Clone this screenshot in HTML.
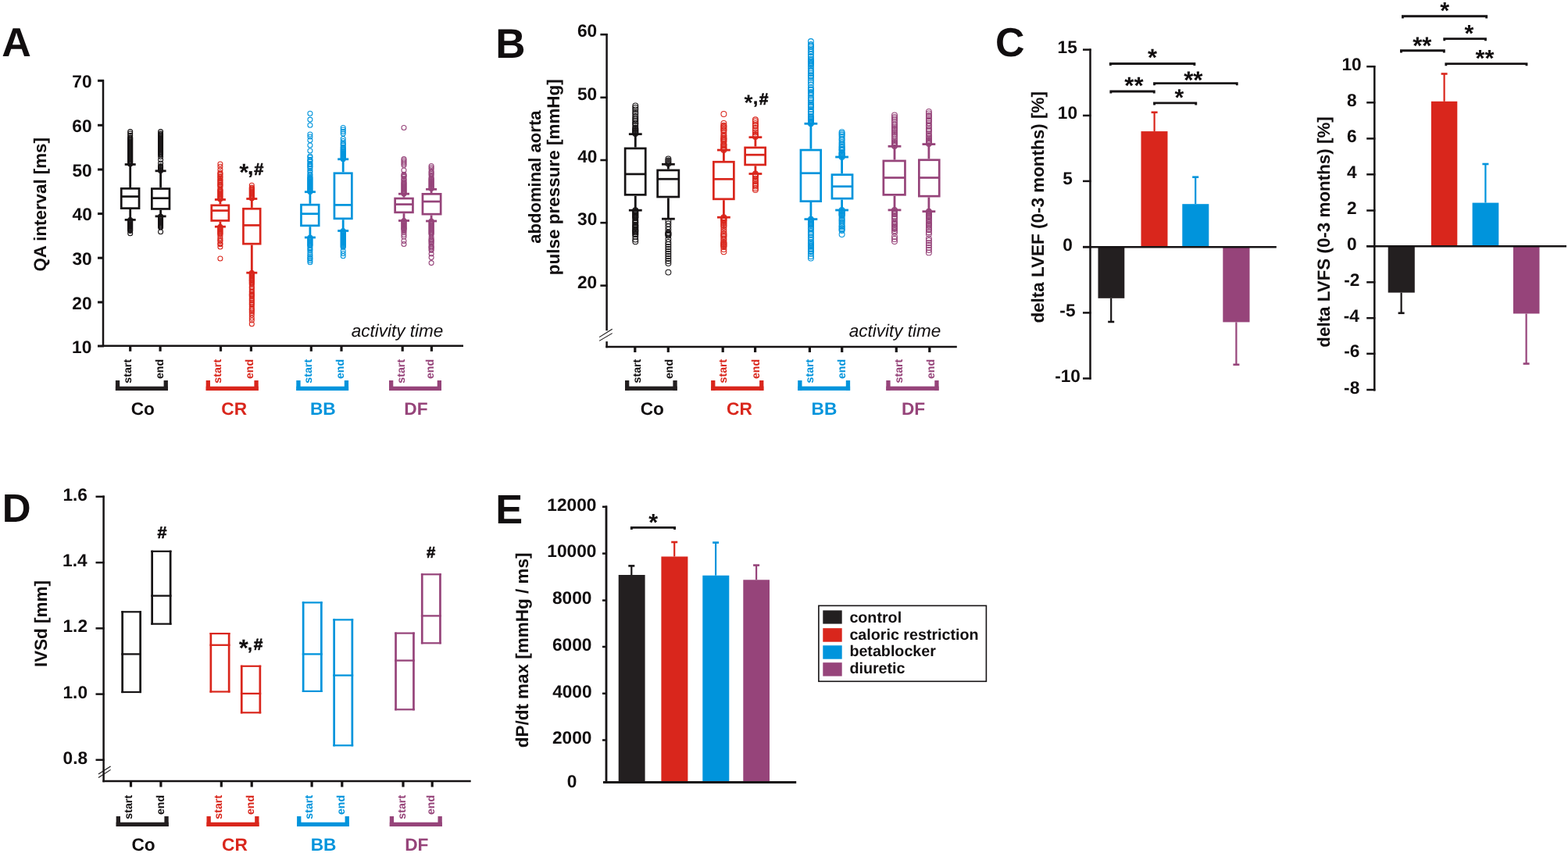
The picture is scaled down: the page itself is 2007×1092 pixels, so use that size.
<!DOCTYPE html>
<html><head><meta charset="utf-8"><style>
html,body{margin:0;padding:0;background:#fff;}
svg{display:block;}
text{font-family:"Liberation Sans", Arial, Helvetica, sans-serif;font-weight:bold;text-rendering:geometricPrecision;}
</style></head><body>
<svg width="2007" height="1092" viewBox="0 0 2007 1092">
<rect width="2007" height="1092" fill="#fff"/>
<text x="2.27" y="71.9" font-size="52.03" fill="#110e0f">A</text>
<line x1="132" y1="102.3" x2="132" y2="444" stroke="#161314" stroke-width="2.5" stroke-linecap="butt"/>
<line x1="125" y1="103.3" x2="133" y2="103.3" stroke="#161314" stroke-width="3" stroke-linecap="butt"/>
<text x="92.3" y="112.13" font-size="22.7" fill="#110e0f">70</text>
<line x1="125" y1="160.3" x2="133" y2="160.3" stroke="#161314" stroke-width="3" stroke-linecap="butt"/>
<text x="92.36" y="169.13" font-size="22.7" fill="#110e0f">60</text>
<line x1="125" y1="217" x2="133" y2="217" stroke="#161314" stroke-width="3" stroke-linecap="butt"/>
<text x="92.42" y="225.83" font-size="22.7" fill="#110e0f">50</text>
<line x1="125" y1="273.6" x2="133" y2="273.6" stroke="#161314" stroke-width="3" stroke-linecap="butt"/>
<text x="92.59" y="282.43" font-size="22.7" fill="#110e0f">40</text>
<line x1="125" y1="330.2" x2="133" y2="330.2" stroke="#161314" stroke-width="3" stroke-linecap="butt"/>
<text x="92.47" y="339.03" font-size="22.7" fill="#110e0f">30</text>
<line x1="125" y1="386.9" x2="133" y2="386.9" stroke="#161314" stroke-width="3" stroke-linecap="butt"/>
<text x="92.36" y="395.73" font-size="22.7" fill="#110e0f">20</text>
<line x1="125" y1="443" x2="133" y2="443" stroke="#161314" stroke-width="3" stroke-linecap="butt"/>
<text x="92.07" y="451.83" font-size="22.7" fill="#110e0f">10</text>
<line x1="131" y1="442.8" x2="593" y2="442.8" stroke="#161314" stroke-width="2.6" stroke-linecap="butt"/>
<line x1="166.7" y1="443" x2="166.7" y2="449.8" stroke="#161314" stroke-width="3.2" stroke-linecap="butt"/>
<line x1="205.1" y1="443" x2="205.1" y2="449.8" stroke="#161314" stroke-width="3.2" stroke-linecap="butt"/>
<line x1="282.5" y1="443" x2="282.5" y2="449.8" stroke="#161314" stroke-width="3.2" stroke-linecap="butt"/>
<line x1="321.4" y1="443" x2="321.4" y2="449.8" stroke="#161314" stroke-width="3.2" stroke-linecap="butt"/>
<line x1="398.3" y1="443" x2="398.3" y2="449.8" stroke="#161314" stroke-width="3.2" stroke-linecap="butt"/>
<line x1="437" y1="443" x2="437" y2="449.8" stroke="#161314" stroke-width="3.2" stroke-linecap="butt"/>
<line x1="515.2" y1="443" x2="515.2" y2="449.8" stroke="#161314" stroke-width="3.2" stroke-linecap="butt"/>
<line x1="552.4" y1="443" x2="552.4" y2="449.8" stroke="#161314" stroke-width="3.2" stroke-linecap="butt"/>
<text transform="translate(58.95,347.59) rotate(-90)" font-size="22.32" fill="#110e0f">QA interval [ms]</text>
<text x="449.65" y="431.15" font-size="22.54" fill="#110e0f" style="font-style:italic;font-weight:normal">activity time</text>
<line x1="166.7" y1="210.5" x2="166.7" y2="240" stroke="#161314" stroke-width="2.8" stroke-linecap="butt"/>
<line x1="166.7" y1="268" x2="166.7" y2="281.4" stroke="#161314" stroke-width="2.8" stroke-linecap="butt"/>
<line x1="159.7" y1="210.5" x2="173.7" y2="210.5" stroke="#161314" stroke-width="2.8" stroke-linecap="butt"/>
<line x1="159.7" y1="281.4" x2="173.7" y2="281.4" stroke="#161314" stroke-width="2.8" stroke-linecap="butt"/>
<rect x="155.25" y="241.35" width="22.8" height="25.3" fill="none" stroke="#161314" stroke-width="2.7"/>
<line x1="155.25" y1="251.6" x2="178.05" y2="251.6" stroke="#161314" stroke-width="2.7" stroke-linecap="butt"/>
<circle cx="166.7" cy="168.6" r="3" fill="none" stroke="#161314" stroke-width="1.05"/>
<circle cx="166.7" cy="171" r="3" fill="none" stroke="#161314" stroke-width="1.05"/>
<circle cx="166.7" cy="173.5" r="3" fill="none" stroke="#161314" stroke-width="1.05"/>
<circle cx="166.7" cy="176" r="3" fill="none" stroke="#161314" stroke-width="1.05"/>
<circle cx="166.7" cy="177" r="3" fill="none" stroke="#161314" stroke-width="1.05"/>
<circle cx="166.7" cy="178" r="3" fill="none" stroke="#161314" stroke-width="1.05"/>
<circle cx="166.7" cy="179" r="3" fill="none" stroke="#161314" stroke-width="1.05"/>
<circle cx="166.7" cy="180" r="3" fill="none" stroke="#161314" stroke-width="1.05"/>
<circle cx="166.7" cy="181" r="3" fill="none" stroke="#161314" stroke-width="1.05"/>
<circle cx="166.7" cy="182" r="3" fill="none" stroke="#161314" stroke-width="1.05"/>
<circle cx="166.7" cy="183" r="3" fill="none" stroke="#161314" stroke-width="1.05"/>
<circle cx="166.7" cy="184" r="3" fill="none" stroke="#161314" stroke-width="1.05"/>
<circle cx="166.7" cy="185" r="3" fill="none" stroke="#161314" stroke-width="1.05"/>
<circle cx="166.7" cy="186" r="3" fill="none" stroke="#161314" stroke-width="1.05"/>
<circle cx="166.7" cy="187" r="3" fill="none" stroke="#161314" stroke-width="1.05"/>
<circle cx="166.7" cy="188" r="3" fill="none" stroke="#161314" stroke-width="1.05"/>
<circle cx="166.7" cy="189" r="3" fill="none" stroke="#161314" stroke-width="1.05"/>
<circle cx="166.7" cy="190" r="3" fill="none" stroke="#161314" stroke-width="1.05"/>
<circle cx="166.7" cy="191" r="3" fill="none" stroke="#161314" stroke-width="1.05"/>
<circle cx="166.7" cy="192" r="3" fill="none" stroke="#161314" stroke-width="1.05"/>
<circle cx="166.7" cy="193" r="3" fill="none" stroke="#161314" stroke-width="1.05"/>
<circle cx="166.7" cy="194" r="3" fill="none" stroke="#161314" stroke-width="1.05"/>
<circle cx="166.7" cy="195" r="3" fill="none" stroke="#161314" stroke-width="1.05"/>
<circle cx="166.7" cy="196" r="3" fill="none" stroke="#161314" stroke-width="1.05"/>
<circle cx="166.7" cy="197" r="3" fill="none" stroke="#161314" stroke-width="1.05"/>
<circle cx="166.7" cy="198" r="3" fill="none" stroke="#161314" stroke-width="1.05"/>
<circle cx="166.7" cy="199" r="3" fill="none" stroke="#161314" stroke-width="1.05"/>
<circle cx="166.7" cy="200" r="3" fill="none" stroke="#161314" stroke-width="1.05"/>
<circle cx="166.7" cy="201" r="3" fill="none" stroke="#161314" stroke-width="1.05"/>
<circle cx="166.7" cy="202" r="3" fill="none" stroke="#161314" stroke-width="1.05"/>
<circle cx="166.7" cy="203" r="3" fill="none" stroke="#161314" stroke-width="1.05"/>
<circle cx="166.7" cy="204" r="3" fill="none" stroke="#161314" stroke-width="1.05"/>
<circle cx="166.7" cy="205" r="3" fill="none" stroke="#161314" stroke-width="1.05"/>
<circle cx="166.7" cy="206" r="3" fill="none" stroke="#161314" stroke-width="1.05"/>
<circle cx="166.7" cy="207" r="3" fill="none" stroke="#161314" stroke-width="1.05"/>
<circle cx="166.7" cy="208" r="3" fill="none" stroke="#161314" stroke-width="1.05"/>
<circle cx="166.7" cy="209" r="3" fill="none" stroke="#161314" stroke-width="1.05"/>
<circle cx="166.7" cy="210" r="3" fill="none" stroke="#161314" stroke-width="1.05"/>
<circle cx="166.7" cy="281.4" r="3" fill="none" stroke="#161314" stroke-width="1.05"/>
<circle cx="166.7" cy="282.4" r="3" fill="none" stroke="#161314" stroke-width="1.05"/>
<circle cx="166.7" cy="283.4" r="3" fill="none" stroke="#161314" stroke-width="1.05"/>
<circle cx="166.7" cy="284.4" r="3" fill="none" stroke="#161314" stroke-width="1.05"/>
<circle cx="166.7" cy="285.4" r="3" fill="none" stroke="#161314" stroke-width="1.05"/>
<circle cx="166.7" cy="286.4" r="3" fill="none" stroke="#161314" stroke-width="1.05"/>
<circle cx="166.7" cy="287.4" r="3" fill="none" stroke="#161314" stroke-width="1.05"/>
<circle cx="166.7" cy="288.4" r="3" fill="none" stroke="#161314" stroke-width="1.05"/>
<circle cx="166.7" cy="289.4" r="3" fill="none" stroke="#161314" stroke-width="1.05"/>
<circle cx="166.7" cy="290.4" r="3" fill="none" stroke="#161314" stroke-width="1.05"/>
<circle cx="166.7" cy="291.4" r="3" fill="none" stroke="#161314" stroke-width="1.05"/>
<circle cx="166.7" cy="292.4" r="3" fill="none" stroke="#161314" stroke-width="1.05"/>
<circle cx="166.7" cy="293.4" r="3" fill="none" stroke="#161314" stroke-width="1.05"/>
<circle cx="166.7" cy="294.4" r="3" fill="none" stroke="#161314" stroke-width="1.05"/>
<circle cx="166.7" cy="295.4" r="3" fill="none" stroke="#161314" stroke-width="1.05"/>
<circle cx="166.7" cy="298.8" r="3" fill="none" stroke="#161314" stroke-width="1.05"/>
<line x1="205.6" y1="218.8" x2="205.6" y2="240.2" stroke="#161314" stroke-width="2.8" stroke-linecap="butt"/>
<line x1="205.6" y1="268.8" x2="205.6" y2="276.9" stroke="#161314" stroke-width="2.8" stroke-linecap="butt"/>
<line x1="198.6" y1="218.8" x2="212.6" y2="218.8" stroke="#161314" stroke-width="2.8" stroke-linecap="butt"/>
<line x1="198.6" y1="276.9" x2="212.6" y2="276.9" stroke="#161314" stroke-width="2.8" stroke-linecap="butt"/>
<rect x="194.35" y="241.55" width="22.6" height="25.9" fill="none" stroke="#161314" stroke-width="2.7"/>
<line x1="194.35" y1="253.7" x2="216.95" y2="253.7" stroke="#161314" stroke-width="2.7" stroke-linecap="butt"/>
<circle cx="205.6" cy="168.6" r="3" fill="none" stroke="#161314" stroke-width="1.05"/>
<circle cx="205.6" cy="171" r="3" fill="none" stroke="#161314" stroke-width="1.05"/>
<circle cx="205.6" cy="172" r="3" fill="none" stroke="#161314" stroke-width="1.05"/>
<circle cx="205.6" cy="173" r="3" fill="none" stroke="#161314" stroke-width="1.05"/>
<circle cx="205.6" cy="174" r="3" fill="none" stroke="#161314" stroke-width="1.05"/>
<circle cx="205.6" cy="175" r="3" fill="none" stroke="#161314" stroke-width="1.05"/>
<circle cx="205.6" cy="176" r="3" fill="none" stroke="#161314" stroke-width="1.05"/>
<circle cx="205.6" cy="177" r="3" fill="none" stroke="#161314" stroke-width="1.05"/>
<circle cx="205.6" cy="178" r="3" fill="none" stroke="#161314" stroke-width="1.05"/>
<circle cx="205.6" cy="179" r="3" fill="none" stroke="#161314" stroke-width="1.05"/>
<circle cx="205.6" cy="180" r="3" fill="none" stroke="#161314" stroke-width="1.05"/>
<circle cx="205.6" cy="181" r="3" fill="none" stroke="#161314" stroke-width="1.05"/>
<circle cx="205.6" cy="182" r="3" fill="none" stroke="#161314" stroke-width="1.05"/>
<circle cx="205.6" cy="183" r="3" fill="none" stroke="#161314" stroke-width="1.05"/>
<circle cx="205.6" cy="184" r="3" fill="none" stroke="#161314" stroke-width="1.05"/>
<circle cx="205.6" cy="185" r="3" fill="none" stroke="#161314" stroke-width="1.05"/>
<circle cx="205.6" cy="186" r="3" fill="none" stroke="#161314" stroke-width="1.05"/>
<circle cx="205.6" cy="187" r="3" fill="none" stroke="#161314" stroke-width="1.05"/>
<circle cx="205.6" cy="188" r="3" fill="none" stroke="#161314" stroke-width="1.05"/>
<circle cx="205.6" cy="189" r="3" fill="none" stroke="#161314" stroke-width="1.05"/>
<circle cx="205.6" cy="190" r="3" fill="none" stroke="#161314" stroke-width="1.05"/>
<circle cx="205.6" cy="191" r="3" fill="none" stroke="#161314" stroke-width="1.05"/>
<circle cx="205.6" cy="192" r="3" fill="none" stroke="#161314" stroke-width="1.05"/>
<circle cx="205.6" cy="193" r="3" fill="none" stroke="#161314" stroke-width="1.05"/>
<circle cx="205.6" cy="194" r="3" fill="none" stroke="#161314" stroke-width="1.05"/>
<circle cx="205.6" cy="195" r="3" fill="none" stroke="#161314" stroke-width="1.05"/>
<circle cx="205.6" cy="196" r="3" fill="none" stroke="#161314" stroke-width="1.05"/>
<circle cx="205.6" cy="197" r="3" fill="none" stroke="#161314" stroke-width="1.05"/>
<circle cx="205.6" cy="198" r="3" fill="none" stroke="#161314" stroke-width="1.05"/>
<circle cx="205.6" cy="200.5" r="3" fill="none" stroke="#161314" stroke-width="1.05"/>
<circle cx="205.6" cy="204.5" r="3" fill="none" stroke="#161314" stroke-width="1.05"/>
<circle cx="205.6" cy="208.9" r="3" fill="none" stroke="#161314" stroke-width="1.05"/>
<circle cx="205.6" cy="212.5" r="3" fill="none" stroke="#161314" stroke-width="1.05"/>
<circle cx="205.6" cy="213.5" r="3" fill="none" stroke="#161314" stroke-width="1.05"/>
<circle cx="205.6" cy="214.5" r="3" fill="none" stroke="#161314" stroke-width="1.05"/>
<circle cx="205.6" cy="215.5" r="3" fill="none" stroke="#161314" stroke-width="1.05"/>
<circle cx="205.6" cy="216.5" r="3" fill="none" stroke="#161314" stroke-width="1.05"/>
<circle cx="205.6" cy="217.5" r="3" fill="none" stroke="#161314" stroke-width="1.05"/>
<circle cx="205.6" cy="218.5" r="3" fill="none" stroke="#161314" stroke-width="1.05"/>
<circle cx="205.6" cy="276.9" r="3" fill="none" stroke="#161314" stroke-width="1.05"/>
<circle cx="205.6" cy="277.9" r="3" fill="none" stroke="#161314" stroke-width="1.05"/>
<circle cx="205.6" cy="278.9" r="3" fill="none" stroke="#161314" stroke-width="1.05"/>
<circle cx="205.6" cy="279.9" r="3" fill="none" stroke="#161314" stroke-width="1.05"/>
<circle cx="205.6" cy="280.9" r="3" fill="none" stroke="#161314" stroke-width="1.05"/>
<circle cx="205.6" cy="281.9" r="3" fill="none" stroke="#161314" stroke-width="1.05"/>
<circle cx="205.6" cy="282.9" r="3" fill="none" stroke="#161314" stroke-width="1.05"/>
<circle cx="205.6" cy="283.9" r="3" fill="none" stroke="#161314" stroke-width="1.05"/>
<circle cx="205.6" cy="284.9" r="3" fill="none" stroke="#161314" stroke-width="1.05"/>
<circle cx="205.6" cy="285.9" r="3" fill="none" stroke="#161314" stroke-width="1.05"/>
<circle cx="205.6" cy="286.9" r="3" fill="none" stroke="#161314" stroke-width="1.05"/>
<circle cx="205.6" cy="287.9" r="3" fill="none" stroke="#161314" stroke-width="1.05"/>
<circle cx="205.6" cy="288.9" r="3" fill="none" stroke="#161314" stroke-width="1.05"/>
<circle cx="205.6" cy="289.9" r="3" fill="none" stroke="#161314" stroke-width="1.05"/>
<circle cx="205.6" cy="290.9" r="3" fill="none" stroke="#161314" stroke-width="1.05"/>
<circle cx="205.6" cy="296.8" r="3" fill="none" stroke="#161314" stroke-width="1.05"/>
<line x1="281.9" y1="255.5" x2="281.9" y2="261.5" stroke="#d9261c" stroke-width="2.8" stroke-linecap="butt"/>
<line x1="281.9" y1="283.8" x2="281.9" y2="290.2" stroke="#d9261c" stroke-width="2.8" stroke-linecap="butt"/>
<line x1="274.9" y1="255.5" x2="288.9" y2="255.5" stroke="#d9261c" stroke-width="2.8" stroke-linecap="butt"/>
<line x1="274.9" y1="290.2" x2="288.9" y2="290.2" stroke="#d9261c" stroke-width="2.8" stroke-linecap="butt"/>
<rect x="270.75" y="262.85" width="22.1" height="19.6" fill="none" stroke="#d9261c" stroke-width="2.7"/>
<line x1="270.75" y1="269.6" x2="292.85" y2="269.6" stroke="#d9261c" stroke-width="2.7" stroke-linecap="butt"/>
<circle cx="281.9" cy="210" r="3" fill="none" stroke="#d9261c" stroke-width="1.05"/>
<circle cx="281.9" cy="213.2" r="3" fill="none" stroke="#d9261c" stroke-width="1.05"/>
<circle cx="281.9" cy="217.3" r="3" fill="none" stroke="#d9261c" stroke-width="1.05"/>
<circle cx="281.9" cy="221" r="3" fill="none" stroke="#d9261c" stroke-width="1.05"/>
<circle cx="281.9" cy="222.51" r="3" fill="none" stroke="#d9261c" stroke-width="1.05"/>
<circle cx="281.9" cy="223.64" r="3" fill="none" stroke="#d9261c" stroke-width="1.05"/>
<circle cx="281.9" cy="225.88" r="3" fill="none" stroke="#d9261c" stroke-width="1.05"/>
<circle cx="281.9" cy="226.84" r="3" fill="none" stroke="#d9261c" stroke-width="1.05"/>
<circle cx="281.9" cy="228.81" r="3" fill="none" stroke="#d9261c" stroke-width="1.05"/>
<circle cx="281.9" cy="230.42" r="3" fill="none" stroke="#d9261c" stroke-width="1.05"/>
<circle cx="281.9" cy="231.35" r="3" fill="none" stroke="#d9261c" stroke-width="1.05"/>
<circle cx="281.9" cy="233.26" r="3" fill="none" stroke="#d9261c" stroke-width="1.05"/>
<circle cx="281.9" cy="234.15" r="3" fill="none" stroke="#d9261c" stroke-width="1.05"/>
<circle cx="281.9" cy="235.9" r="3" fill="none" stroke="#d9261c" stroke-width="1.05"/>
<circle cx="281.9" cy="236.85" r="3" fill="none" stroke="#d9261c" stroke-width="1.05"/>
<circle cx="281.9" cy="237.85" r="3" fill="none" stroke="#d9261c" stroke-width="1.05"/>
<circle cx="281.9" cy="239.59" r="3" fill="none" stroke="#d9261c" stroke-width="1.05"/>
<circle cx="281.9" cy="242.21" r="3" fill="none" stroke="#d9261c" stroke-width="1.05"/>
<circle cx="281.9" cy="243.28" r="3" fill="none" stroke="#d9261c" stroke-width="1.05"/>
<circle cx="281.9" cy="244" r="3" fill="none" stroke="#d9261c" stroke-width="1.05"/>
<circle cx="281.9" cy="245" r="3" fill="none" stroke="#d9261c" stroke-width="1.05"/>
<circle cx="281.9" cy="246" r="3" fill="none" stroke="#d9261c" stroke-width="1.05"/>
<circle cx="281.9" cy="247" r="3" fill="none" stroke="#d9261c" stroke-width="1.05"/>
<circle cx="281.9" cy="248" r="3" fill="none" stroke="#d9261c" stroke-width="1.05"/>
<circle cx="281.9" cy="249" r="3" fill="none" stroke="#d9261c" stroke-width="1.05"/>
<circle cx="281.9" cy="250" r="3" fill="none" stroke="#d9261c" stroke-width="1.05"/>
<circle cx="281.9" cy="251" r="3" fill="none" stroke="#d9261c" stroke-width="1.05"/>
<circle cx="281.9" cy="252" r="3" fill="none" stroke="#d9261c" stroke-width="1.05"/>
<circle cx="281.9" cy="253" r="3" fill="none" stroke="#d9261c" stroke-width="1.05"/>
<circle cx="281.9" cy="254" r="3" fill="none" stroke="#d9261c" stroke-width="1.05"/>
<circle cx="281.9" cy="255" r="3" fill="none" stroke="#d9261c" stroke-width="1.05"/>
<circle cx="281.9" cy="290.2" r="3" fill="none" stroke="#d9261c" stroke-width="1.05"/>
<circle cx="281.9" cy="291.2" r="3" fill="none" stroke="#d9261c" stroke-width="1.05"/>
<circle cx="281.9" cy="292.2" r="3" fill="none" stroke="#d9261c" stroke-width="1.05"/>
<circle cx="281.9" cy="293.2" r="3" fill="none" stroke="#d9261c" stroke-width="1.05"/>
<circle cx="281.9" cy="294.2" r="3" fill="none" stroke="#d9261c" stroke-width="1.05"/>
<circle cx="281.9" cy="295.2" r="3" fill="none" stroke="#d9261c" stroke-width="1.05"/>
<circle cx="281.9" cy="296.2" r="3" fill="none" stroke="#d9261c" stroke-width="1.05"/>
<circle cx="281.9" cy="297.2" r="3" fill="none" stroke="#d9261c" stroke-width="1.05"/>
<circle cx="281.9" cy="298.2" r="3" fill="none" stroke="#d9261c" stroke-width="1.05"/>
<circle cx="281.9" cy="299.2" r="3" fill="none" stroke="#d9261c" stroke-width="1.05"/>
<circle cx="281.9" cy="300" r="3" fill="none" stroke="#d9261c" stroke-width="1.05"/>
<circle cx="281.9" cy="302.18" r="3" fill="none" stroke="#d9261c" stroke-width="1.05"/>
<circle cx="281.9" cy="305.07" r="3" fill="none" stroke="#d9261c" stroke-width="1.05"/>
<circle cx="281.9" cy="307.13" r="3" fill="none" stroke="#d9261c" stroke-width="1.05"/>
<circle cx="281.9" cy="308.81" r="3" fill="none" stroke="#d9261c" stroke-width="1.05"/>
<circle cx="281.9" cy="311.76" r="3" fill="none" stroke="#d9261c" stroke-width="1.05"/>
<circle cx="281.9" cy="312.66" r="3" fill="none" stroke="#d9261c" stroke-width="1.05"/>
<circle cx="281.9" cy="315.9" r="3" fill="none" stroke="#d9261c" stroke-width="1.05"/>
<circle cx="281.9" cy="330.9" r="3" fill="none" stroke="#d9261c" stroke-width="1.05"/>
<line x1="322.3" y1="254.5" x2="322.3" y2="265.9" stroke="#d9261c" stroke-width="2.8" stroke-linecap="butt"/>
<line x1="322.3" y1="313.5" x2="322.3" y2="349.2" stroke="#d9261c" stroke-width="2.8" stroke-linecap="butt"/>
<line x1="315.3" y1="254.5" x2="329.3" y2="254.5" stroke="#d9261c" stroke-width="2.8" stroke-linecap="butt"/>
<line x1="315.3" y1="349.2" x2="329.3" y2="349.2" stroke="#d9261c" stroke-width="2.8" stroke-linecap="butt"/>
<rect x="311.45" y="267.25" width="21.7" height="44.9" fill="none" stroke="#d9261c" stroke-width="2.7"/>
<line x1="311.45" y1="288.4" x2="333.15" y2="288.4" stroke="#d9261c" stroke-width="2.7" stroke-linecap="butt"/>
<circle cx="322.3" cy="237.2" r="3" fill="none" stroke="#d9261c" stroke-width="1.05"/>
<circle cx="322.3" cy="240" r="3" fill="none" stroke="#d9261c" stroke-width="1.05"/>
<circle cx="322.3" cy="241" r="3" fill="none" stroke="#d9261c" stroke-width="1.05"/>
<circle cx="322.3" cy="242" r="3" fill="none" stroke="#d9261c" stroke-width="1.05"/>
<circle cx="322.3" cy="243" r="3" fill="none" stroke="#d9261c" stroke-width="1.05"/>
<circle cx="322.3" cy="244" r="3" fill="none" stroke="#d9261c" stroke-width="1.05"/>
<circle cx="322.3" cy="245" r="3" fill="none" stroke="#d9261c" stroke-width="1.05"/>
<circle cx="322.3" cy="246" r="3" fill="none" stroke="#d9261c" stroke-width="1.05"/>
<circle cx="322.3" cy="247" r="3" fill="none" stroke="#d9261c" stroke-width="1.05"/>
<circle cx="322.3" cy="248" r="3" fill="none" stroke="#d9261c" stroke-width="1.05"/>
<circle cx="322.3" cy="249" r="3" fill="none" stroke="#d9261c" stroke-width="1.05"/>
<circle cx="322.3" cy="250" r="3" fill="none" stroke="#d9261c" stroke-width="1.05"/>
<circle cx="322.3" cy="251" r="3" fill="none" stroke="#d9261c" stroke-width="1.05"/>
<circle cx="322.3" cy="252" r="3" fill="none" stroke="#d9261c" stroke-width="1.05"/>
<circle cx="322.3" cy="253" r="3" fill="none" stroke="#d9261c" stroke-width="1.05"/>
<circle cx="322.3" cy="254" r="3" fill="none" stroke="#d9261c" stroke-width="1.05"/>
<circle cx="322.3" cy="349.2" r="3" fill="none" stroke="#d9261c" stroke-width="1.05"/>
<circle cx="322.3" cy="350.2" r="3" fill="none" stroke="#d9261c" stroke-width="1.05"/>
<circle cx="322.3" cy="351.2" r="3" fill="none" stroke="#d9261c" stroke-width="1.05"/>
<circle cx="322.3" cy="352.2" r="3" fill="none" stroke="#d9261c" stroke-width="1.05"/>
<circle cx="322.3" cy="353.2" r="3" fill="none" stroke="#d9261c" stroke-width="1.05"/>
<circle cx="322.3" cy="354.2" r="3" fill="none" stroke="#d9261c" stroke-width="1.05"/>
<circle cx="322.3" cy="355.2" r="3" fill="none" stroke="#d9261c" stroke-width="1.05"/>
<circle cx="322.3" cy="356.2" r="3" fill="none" stroke="#d9261c" stroke-width="1.05"/>
<circle cx="322.3" cy="357.2" r="3" fill="none" stroke="#d9261c" stroke-width="1.05"/>
<circle cx="322.3" cy="358.2" r="3" fill="none" stroke="#d9261c" stroke-width="1.05"/>
<circle cx="322.3" cy="359.2" r="3" fill="none" stroke="#d9261c" stroke-width="1.05"/>
<circle cx="322.3" cy="359.5" r="3" fill="none" stroke="#d9261c" stroke-width="1.05"/>
<circle cx="322.3" cy="360.94" r="3" fill="none" stroke="#d9261c" stroke-width="1.05"/>
<circle cx="322.3" cy="362.05" r="3" fill="none" stroke="#d9261c" stroke-width="1.05"/>
<circle cx="322.3" cy="363.11" r="3" fill="none" stroke="#d9261c" stroke-width="1.05"/>
<circle cx="322.3" cy="364.59" r="3" fill="none" stroke="#d9261c" stroke-width="1.05"/>
<circle cx="322.3" cy="367.19" r="3" fill="none" stroke="#d9261c" stroke-width="1.05"/>
<circle cx="322.3" cy="368.39" r="3" fill="none" stroke="#d9261c" stroke-width="1.05"/>
<circle cx="322.3" cy="370.46" r="3" fill="none" stroke="#d9261c" stroke-width="1.05"/>
<circle cx="322.3" cy="372.67" r="3" fill="none" stroke="#d9261c" stroke-width="1.05"/>
<circle cx="322.3" cy="374.29" r="3" fill="none" stroke="#d9261c" stroke-width="1.05"/>
<circle cx="322.3" cy="376.29" r="3" fill="none" stroke="#d9261c" stroke-width="1.05"/>
<circle cx="322.3" cy="377.23" r="3" fill="none" stroke="#d9261c" stroke-width="1.05"/>
<circle cx="322.3" cy="378.16" r="3" fill="none" stroke="#d9261c" stroke-width="1.05"/>
<circle cx="322.3" cy="379.42" r="3" fill="none" stroke="#d9261c" stroke-width="1.05"/>
<circle cx="322.3" cy="381.71" r="3" fill="none" stroke="#d9261c" stroke-width="1.05"/>
<circle cx="322.3" cy="383.45" r="3" fill="none" stroke="#d9261c" stroke-width="1.05"/>
<circle cx="322.3" cy="384.95" r="3" fill="none" stroke="#d9261c" stroke-width="1.05"/>
<circle cx="322.3" cy="387.03" r="3" fill="none" stroke="#d9261c" stroke-width="1.05"/>
<circle cx="322.3" cy="388.83" r="3" fill="none" stroke="#d9261c" stroke-width="1.05"/>
<circle cx="322.3" cy="390.29" r="3" fill="none" stroke="#d9261c" stroke-width="1.05"/>
<circle cx="322.3" cy="392.84" r="3" fill="none" stroke="#d9261c" stroke-width="1.05"/>
<circle cx="322.3" cy="395.18" r="3" fill="none" stroke="#d9261c" stroke-width="1.05"/>
<circle cx="322.3" cy="396.51" r="3" fill="none" stroke="#d9261c" stroke-width="1.05"/>
<circle cx="322.3" cy="398.58" r="3" fill="none" stroke="#d9261c" stroke-width="1.05"/>
<circle cx="322.3" cy="400.53" r="3" fill="none" stroke="#d9261c" stroke-width="1.05"/>
<circle cx="322.3" cy="403.26" r="3" fill="none" stroke="#d9261c" stroke-width="1.05"/>
<circle cx="322.3" cy="407" r="3" fill="none" stroke="#d9261c" stroke-width="1.05"/>
<circle cx="322.3" cy="410" r="3" fill="none" stroke="#d9261c" stroke-width="1.05"/>
<circle cx="322.3" cy="414.7" r="3" fill="none" stroke="#d9261c" stroke-width="1.05"/>
<line x1="396.9" y1="245.7" x2="396.9" y2="260.8" stroke="#0094dc" stroke-width="2.8" stroke-linecap="butt"/>
<line x1="396.9" y1="290.2" x2="396.9" y2="304" stroke="#0094dc" stroke-width="2.8" stroke-linecap="butt"/>
<line x1="389.9" y1="245.7" x2="403.9" y2="245.7" stroke="#0094dc" stroke-width="2.8" stroke-linecap="butt"/>
<line x1="389.9" y1="304" x2="403.9" y2="304" stroke="#0094dc" stroke-width="2.8" stroke-linecap="butt"/>
<rect x="385.45" y="262.15" width="22.7" height="26.7" fill="none" stroke="#0094dc" stroke-width="2.7"/>
<line x1="385.45" y1="273.7" x2="408.15" y2="273.7" stroke="#0094dc" stroke-width="2.7" stroke-linecap="butt"/>
<circle cx="396.9" cy="145.3" r="3" fill="none" stroke="#0094dc" stroke-width="1.05"/>
<circle cx="396.9" cy="153.1" r="3" fill="none" stroke="#0094dc" stroke-width="1.05"/>
<circle cx="396.9" cy="160.3" r="3" fill="none" stroke="#0094dc" stroke-width="1.05"/>
<circle cx="396.9" cy="171.9" r="3" fill="none" stroke="#0094dc" stroke-width="1.05"/>
<circle cx="396.9" cy="175" r="3" fill="none" stroke="#0094dc" stroke-width="1.05"/>
<circle cx="396.9" cy="179.4" r="3" fill="none" stroke="#0094dc" stroke-width="1.05"/>
<circle cx="396.9" cy="186" r="3" fill="none" stroke="#0094dc" stroke-width="1.05"/>
<circle cx="396.9" cy="193" r="3" fill="none" stroke="#0094dc" stroke-width="1.05"/>
<circle cx="396.9" cy="200" r="3" fill="none" stroke="#0094dc" stroke-width="1.05"/>
<circle cx="396.9" cy="201.43" r="3" fill="none" stroke="#0094dc" stroke-width="1.05"/>
<circle cx="396.9" cy="204.39" r="3" fill="none" stroke="#0094dc" stroke-width="1.05"/>
<circle cx="396.9" cy="205.45" r="3" fill="none" stroke="#0094dc" stroke-width="1.05"/>
<circle cx="396.9" cy="207.17" r="3" fill="none" stroke="#0094dc" stroke-width="1.05"/>
<circle cx="396.9" cy="209.64" r="3" fill="none" stroke="#0094dc" stroke-width="1.05"/>
<circle cx="396.9" cy="210.77" r="3" fill="none" stroke="#0094dc" stroke-width="1.05"/>
<circle cx="396.9" cy="212.65" r="3" fill="none" stroke="#0094dc" stroke-width="1.05"/>
<circle cx="396.9" cy="213.53" r="3" fill="none" stroke="#0094dc" stroke-width="1.05"/>
<circle cx="396.9" cy="215.8" r="3" fill="none" stroke="#0094dc" stroke-width="1.05"/>
<circle cx="396.9" cy="218.28" r="3" fill="none" stroke="#0094dc" stroke-width="1.05"/>
<circle cx="396.9" cy="220.34" r="3" fill="none" stroke="#0094dc" stroke-width="1.05"/>
<circle cx="396.9" cy="223.07" r="3" fill="none" stroke="#0094dc" stroke-width="1.05"/>
<circle cx="396.9" cy="224.56" r="3" fill="none" stroke="#0094dc" stroke-width="1.05"/>
<circle cx="396.9" cy="226.4" r="3" fill="none" stroke="#0094dc" stroke-width="1.05"/>
<circle cx="396.9" cy="227.4" r="3" fill="none" stroke="#0094dc" stroke-width="1.05"/>
<circle cx="396.9" cy="228.4" r="3" fill="none" stroke="#0094dc" stroke-width="1.05"/>
<circle cx="396.9" cy="229.4" r="3" fill="none" stroke="#0094dc" stroke-width="1.05"/>
<circle cx="396.9" cy="230.4" r="3" fill="none" stroke="#0094dc" stroke-width="1.05"/>
<circle cx="396.9" cy="231.4" r="3" fill="none" stroke="#0094dc" stroke-width="1.05"/>
<circle cx="396.9" cy="232.4" r="3" fill="none" stroke="#0094dc" stroke-width="1.05"/>
<circle cx="396.9" cy="233.4" r="3" fill="none" stroke="#0094dc" stroke-width="1.05"/>
<circle cx="396.9" cy="234.4" r="3" fill="none" stroke="#0094dc" stroke-width="1.05"/>
<circle cx="396.9" cy="235.4" r="3" fill="none" stroke="#0094dc" stroke-width="1.05"/>
<circle cx="396.9" cy="236.4" r="3" fill="none" stroke="#0094dc" stroke-width="1.05"/>
<circle cx="396.9" cy="237.4" r="3" fill="none" stroke="#0094dc" stroke-width="1.05"/>
<circle cx="396.9" cy="238.4" r="3" fill="none" stroke="#0094dc" stroke-width="1.05"/>
<circle cx="396.9" cy="239.4" r="3" fill="none" stroke="#0094dc" stroke-width="1.05"/>
<circle cx="396.9" cy="240.4" r="3" fill="none" stroke="#0094dc" stroke-width="1.05"/>
<circle cx="396.9" cy="241.4" r="3" fill="none" stroke="#0094dc" stroke-width="1.05"/>
<circle cx="396.9" cy="242.4" r="3" fill="none" stroke="#0094dc" stroke-width="1.05"/>
<circle cx="396.9" cy="243.4" r="3" fill="none" stroke="#0094dc" stroke-width="1.05"/>
<circle cx="396.9" cy="244.4" r="3" fill="none" stroke="#0094dc" stroke-width="1.05"/>
<circle cx="396.9" cy="245.4" r="3" fill="none" stroke="#0094dc" stroke-width="1.05"/>
<circle cx="396.9" cy="304" r="3" fill="none" stroke="#0094dc" stroke-width="1.05"/>
<circle cx="396.9" cy="305" r="3" fill="none" stroke="#0094dc" stroke-width="1.05"/>
<circle cx="396.9" cy="306" r="3" fill="none" stroke="#0094dc" stroke-width="1.05"/>
<circle cx="396.9" cy="307" r="3" fill="none" stroke="#0094dc" stroke-width="1.05"/>
<circle cx="396.9" cy="308" r="3" fill="none" stroke="#0094dc" stroke-width="1.05"/>
<circle cx="396.9" cy="309" r="3" fill="none" stroke="#0094dc" stroke-width="1.05"/>
<circle cx="396.9" cy="310" r="3" fill="none" stroke="#0094dc" stroke-width="1.05"/>
<circle cx="396.9" cy="311" r="3" fill="none" stroke="#0094dc" stroke-width="1.05"/>
<circle cx="396.9" cy="312" r="3" fill="none" stroke="#0094dc" stroke-width="1.05"/>
<circle cx="396.9" cy="313" r="3" fill="none" stroke="#0094dc" stroke-width="1.05"/>
<circle cx="396.9" cy="314" r="3" fill="none" stroke="#0094dc" stroke-width="1.05"/>
<circle cx="396.9" cy="314.6" r="3" fill="none" stroke="#0094dc" stroke-width="1.05"/>
<circle cx="396.9" cy="316.71" r="3" fill="none" stroke="#0094dc" stroke-width="1.05"/>
<circle cx="396.9" cy="318.78" r="3" fill="none" stroke="#0094dc" stroke-width="1.05"/>
<circle cx="396.9" cy="320.59" r="3" fill="none" stroke="#0094dc" stroke-width="1.05"/>
<circle cx="396.9" cy="323.23" r="3" fill="none" stroke="#0094dc" stroke-width="1.05"/>
<circle cx="396.9" cy="326.11" r="3" fill="none" stroke="#0094dc" stroke-width="1.05"/>
<circle cx="396.9" cy="327.96" r="3" fill="none" stroke="#0094dc" stroke-width="1.05"/>
<circle cx="396.9" cy="330.22" r="3" fill="none" stroke="#0094dc" stroke-width="1.05"/>
<circle cx="396.9" cy="331.15" r="3" fill="none" stroke="#0094dc" stroke-width="1.05"/>
<circle cx="396.9" cy="333.49" r="3" fill="none" stroke="#0094dc" stroke-width="1.05"/>
<circle cx="396.9" cy="335.72" r="3" fill="none" stroke="#0094dc" stroke-width="1.05"/>
<line x1="439.2" y1="203.8" x2="439.2" y2="220.4" stroke="#0094dc" stroke-width="2.8" stroke-linecap="butt"/>
<line x1="439.2" y1="281.2" x2="439.2" y2="295.5" stroke="#0094dc" stroke-width="2.8" stroke-linecap="butt"/>
<line x1="432.2" y1="203.8" x2="446.2" y2="203.8" stroke="#0094dc" stroke-width="2.8" stroke-linecap="butt"/>
<line x1="432.2" y1="295.5" x2="446.2" y2="295.5" stroke="#0094dc" stroke-width="2.8" stroke-linecap="butt"/>
<rect x="427.95" y="221.75" width="22.4" height="58.1" fill="none" stroke="#0094dc" stroke-width="2.7"/>
<line x1="427.95" y1="262.4" x2="450.35" y2="262.4" stroke="#0094dc" stroke-width="2.7" stroke-linecap="butt"/>
<circle cx="439.2" cy="163.5" r="3" fill="none" stroke="#0094dc" stroke-width="1.05"/>
<circle cx="439.2" cy="166" r="3" fill="none" stroke="#0094dc" stroke-width="1.05"/>
<circle cx="439.2" cy="168.5" r="3" fill="none" stroke="#0094dc" stroke-width="1.05"/>
<circle cx="439.2" cy="171" r="3" fill="none" stroke="#0094dc" stroke-width="1.05"/>
<circle cx="439.2" cy="177.6" r="3" fill="none" stroke="#0094dc" stroke-width="1.05"/>
<circle cx="439.2" cy="180.4" r="3" fill="none" stroke="#0094dc" stroke-width="1.05"/>
<circle cx="439.2" cy="183.01" r="3" fill="none" stroke="#0094dc" stroke-width="1.05"/>
<circle cx="439.2" cy="184.43" r="3" fill="none" stroke="#0094dc" stroke-width="1.05"/>
<circle cx="439.2" cy="186.08" r="3" fill="none" stroke="#0094dc" stroke-width="1.05"/>
<circle cx="439.2" cy="188.35" r="3" fill="none" stroke="#0094dc" stroke-width="1.05"/>
<circle cx="439.2" cy="189.2" r="3" fill="none" stroke="#0094dc" stroke-width="1.05"/>
<circle cx="439.2" cy="190.7" r="3" fill="none" stroke="#0094dc" stroke-width="1.05"/>
<circle cx="439.2" cy="191.7" r="3" fill="none" stroke="#0094dc" stroke-width="1.05"/>
<circle cx="439.2" cy="192.7" r="3" fill="none" stroke="#0094dc" stroke-width="1.05"/>
<circle cx="439.2" cy="193.7" r="3" fill="none" stroke="#0094dc" stroke-width="1.05"/>
<circle cx="439.2" cy="194.7" r="3" fill="none" stroke="#0094dc" stroke-width="1.05"/>
<circle cx="439.2" cy="195.7" r="3" fill="none" stroke="#0094dc" stroke-width="1.05"/>
<circle cx="439.2" cy="196.7" r="3" fill="none" stroke="#0094dc" stroke-width="1.05"/>
<circle cx="439.2" cy="197.7" r="3" fill="none" stroke="#0094dc" stroke-width="1.05"/>
<circle cx="439.2" cy="198.7" r="3" fill="none" stroke="#0094dc" stroke-width="1.05"/>
<circle cx="439.2" cy="199.7" r="3" fill="none" stroke="#0094dc" stroke-width="1.05"/>
<circle cx="439.2" cy="200.7" r="3" fill="none" stroke="#0094dc" stroke-width="1.05"/>
<circle cx="439.2" cy="201.7" r="3" fill="none" stroke="#0094dc" stroke-width="1.05"/>
<circle cx="439.2" cy="202.7" r="3" fill="none" stroke="#0094dc" stroke-width="1.05"/>
<circle cx="439.2" cy="203.7" r="3" fill="none" stroke="#0094dc" stroke-width="1.05"/>
<circle cx="439.2" cy="295.5" r="3" fill="none" stroke="#0094dc" stroke-width="1.05"/>
<circle cx="439.2" cy="296.5" r="3" fill="none" stroke="#0094dc" stroke-width="1.05"/>
<circle cx="439.2" cy="297.5" r="3" fill="none" stroke="#0094dc" stroke-width="1.05"/>
<circle cx="439.2" cy="298.5" r="3" fill="none" stroke="#0094dc" stroke-width="1.05"/>
<circle cx="439.2" cy="299.5" r="3" fill="none" stroke="#0094dc" stroke-width="1.05"/>
<circle cx="439.2" cy="300.5" r="3" fill="none" stroke="#0094dc" stroke-width="1.05"/>
<circle cx="439.2" cy="301.5" r="3" fill="none" stroke="#0094dc" stroke-width="1.05"/>
<circle cx="439.2" cy="302.5" r="3" fill="none" stroke="#0094dc" stroke-width="1.05"/>
<circle cx="439.2" cy="303.5" r="3" fill="none" stroke="#0094dc" stroke-width="1.05"/>
<circle cx="439.2" cy="304.5" r="3" fill="none" stroke="#0094dc" stroke-width="1.05"/>
<circle cx="439.2" cy="305.5" r="3" fill="none" stroke="#0094dc" stroke-width="1.05"/>
<circle cx="439.2" cy="306.5" r="3" fill="none" stroke="#0094dc" stroke-width="1.05"/>
<circle cx="439.2" cy="307.5" r="3" fill="none" stroke="#0094dc" stroke-width="1.05"/>
<circle cx="439.2" cy="308.5" r="3" fill="none" stroke="#0094dc" stroke-width="1.05"/>
<circle cx="439.2" cy="309.5" r="3" fill="none" stroke="#0094dc" stroke-width="1.05"/>
<circle cx="439.2" cy="310.5" r="3" fill="none" stroke="#0094dc" stroke-width="1.05"/>
<circle cx="439.2" cy="311.5" r="3" fill="none" stroke="#0094dc" stroke-width="1.05"/>
<circle cx="439.2" cy="312.5" r="3" fill="none" stroke="#0094dc" stroke-width="1.05"/>
<circle cx="439.2" cy="313.5" r="3" fill="none" stroke="#0094dc" stroke-width="1.05"/>
<circle cx="439.2" cy="314.5" r="3" fill="none" stroke="#0094dc" stroke-width="1.05"/>
<circle cx="439.2" cy="315.5" r="3" fill="none" stroke="#0094dc" stroke-width="1.05"/>
<circle cx="439.2" cy="316.5" r="3" fill="none" stroke="#0094dc" stroke-width="1.05"/>
<circle cx="439.2" cy="321.2" r="3" fill="none" stroke="#0094dc" stroke-width="1.05"/>
<circle cx="439.2" cy="324.5" r="3" fill="none" stroke="#0094dc" stroke-width="1.05"/>
<circle cx="439.2" cy="327.8" r="3" fill="none" stroke="#0094dc" stroke-width="1.05"/>
<line x1="517" y1="248.2" x2="517" y2="252.7" stroke="#96447a" stroke-width="2.8" stroke-linecap="butt"/>
<line x1="517" y1="273.2" x2="517" y2="282.5" stroke="#96447a" stroke-width="2.8" stroke-linecap="butt"/>
<line x1="510" y1="248.2" x2="524" y2="248.2" stroke="#96447a" stroke-width="2.8" stroke-linecap="butt"/>
<line x1="510" y1="282.5" x2="524" y2="282.5" stroke="#96447a" stroke-width="2.8" stroke-linecap="butt"/>
<rect x="505.65" y="254.05" width="22.8" height="17.8" fill="none" stroke="#96447a" stroke-width="2.7"/>
<line x1="505.65" y1="261.6" x2="528.45" y2="261.6" stroke="#96447a" stroke-width="2.7" stroke-linecap="butt"/>
<circle cx="517" cy="163.4" r="3" fill="none" stroke="#96447a" stroke-width="1.05"/>
<circle cx="517" cy="203.6" r="3" fill="none" stroke="#96447a" stroke-width="1.05"/>
<circle cx="517" cy="205.5" r="3" fill="none" stroke="#96447a" stroke-width="1.05"/>
<circle cx="517" cy="207.5" r="3" fill="none" stroke="#96447a" stroke-width="1.05"/>
<circle cx="517" cy="209.5" r="3" fill="none" stroke="#96447a" stroke-width="1.05"/>
<circle cx="517" cy="211.5" r="3" fill="none" stroke="#96447a" stroke-width="1.05"/>
<circle cx="517" cy="217.9" r="3" fill="none" stroke="#96447a" stroke-width="1.05"/>
<circle cx="517" cy="223.2" r="3" fill="none" stroke="#96447a" stroke-width="1.05"/>
<circle cx="517" cy="224.37" r="3" fill="none" stroke="#96447a" stroke-width="1.05"/>
<circle cx="517" cy="225.43" r="3" fill="none" stroke="#96447a" stroke-width="1.05"/>
<circle cx="517" cy="226.36" r="3" fill="none" stroke="#96447a" stroke-width="1.05"/>
<circle cx="517" cy="228.85" r="3" fill="none" stroke="#96447a" stroke-width="1.05"/>
<circle cx="517" cy="229.93" r="3" fill="none" stroke="#96447a" stroke-width="1.05"/>
<circle cx="517" cy="231.28" r="3" fill="none" stroke="#96447a" stroke-width="1.05"/>
<circle cx="517" cy="232.94" r="3" fill="none" stroke="#96447a" stroke-width="1.05"/>
<circle cx="517" cy="234" r="3" fill="none" stroke="#96447a" stroke-width="1.05"/>
<circle cx="517" cy="235" r="3" fill="none" stroke="#96447a" stroke-width="1.05"/>
<circle cx="517" cy="236" r="3" fill="none" stroke="#96447a" stroke-width="1.05"/>
<circle cx="517" cy="237" r="3" fill="none" stroke="#96447a" stroke-width="1.05"/>
<circle cx="517" cy="238" r="3" fill="none" stroke="#96447a" stroke-width="1.05"/>
<circle cx="517" cy="239" r="3" fill="none" stroke="#96447a" stroke-width="1.05"/>
<circle cx="517" cy="240" r="3" fill="none" stroke="#96447a" stroke-width="1.05"/>
<circle cx="517" cy="241" r="3" fill="none" stroke="#96447a" stroke-width="1.05"/>
<circle cx="517" cy="242" r="3" fill="none" stroke="#96447a" stroke-width="1.05"/>
<circle cx="517" cy="243" r="3" fill="none" stroke="#96447a" stroke-width="1.05"/>
<circle cx="517" cy="244" r="3" fill="none" stroke="#96447a" stroke-width="1.05"/>
<circle cx="517" cy="245" r="3" fill="none" stroke="#96447a" stroke-width="1.05"/>
<circle cx="517" cy="246" r="3" fill="none" stroke="#96447a" stroke-width="1.05"/>
<circle cx="517" cy="247" r="3" fill="none" stroke="#96447a" stroke-width="1.05"/>
<circle cx="517" cy="248" r="3" fill="none" stroke="#96447a" stroke-width="1.05"/>
<circle cx="517" cy="282.5" r="3" fill="none" stroke="#96447a" stroke-width="1.05"/>
<circle cx="517" cy="283.5" r="3" fill="none" stroke="#96447a" stroke-width="1.05"/>
<circle cx="517" cy="284.5" r="3" fill="none" stroke="#96447a" stroke-width="1.05"/>
<circle cx="517" cy="285.5" r="3" fill="none" stroke="#96447a" stroke-width="1.05"/>
<circle cx="517" cy="286.5" r="3" fill="none" stroke="#96447a" stroke-width="1.05"/>
<circle cx="517" cy="287.5" r="3" fill="none" stroke="#96447a" stroke-width="1.05"/>
<circle cx="517" cy="288.5" r="3" fill="none" stroke="#96447a" stroke-width="1.05"/>
<circle cx="517" cy="289.5" r="3" fill="none" stroke="#96447a" stroke-width="1.05"/>
<circle cx="517" cy="290.5" r="3" fill="none" stroke="#96447a" stroke-width="1.05"/>
<circle cx="517" cy="291.5" r="3" fill="none" stroke="#96447a" stroke-width="1.05"/>
<circle cx="517" cy="292.5" r="3" fill="none" stroke="#96447a" stroke-width="1.05"/>
<circle cx="517" cy="292.9" r="3" fill="none" stroke="#96447a" stroke-width="1.05"/>
<circle cx="517" cy="293.88" r="3" fill="none" stroke="#96447a" stroke-width="1.05"/>
<circle cx="517" cy="295.67" r="3" fill="none" stroke="#96447a" stroke-width="1.05"/>
<circle cx="517" cy="297.67" r="3" fill="none" stroke="#96447a" stroke-width="1.05"/>
<circle cx="517" cy="300.42" r="3" fill="none" stroke="#96447a" stroke-width="1.05"/>
<circle cx="517" cy="303.02" r="3" fill="none" stroke="#96447a" stroke-width="1.05"/>
<circle cx="517" cy="308.5" r="3" fill="none" stroke="#96447a" stroke-width="1.05"/>
<circle cx="517" cy="312.5" r="3" fill="none" stroke="#96447a" stroke-width="1.05"/>
<line x1="552.1" y1="242.3" x2="552.1" y2="247" stroke="#96447a" stroke-width="2.8" stroke-linecap="butt"/>
<line x1="552.1" y1="275.5" x2="552.1" y2="283" stroke="#96447a" stroke-width="2.8" stroke-linecap="butt"/>
<line x1="545.1" y1="242.3" x2="559.1" y2="242.3" stroke="#96447a" stroke-width="2.8" stroke-linecap="butt"/>
<line x1="545.1" y1="283" x2="559.1" y2="283" stroke="#96447a" stroke-width="2.8" stroke-linecap="butt"/>
<rect x="540.95" y="248.35" width="23.2" height="25.8" fill="none" stroke="#96447a" stroke-width="2.7"/>
<line x1="540.95" y1="258" x2="564.15" y2="258" stroke="#96447a" stroke-width="2.7" stroke-linecap="butt"/>
<circle cx="552.1" cy="212.5" r="3" fill="none" stroke="#96447a" stroke-width="1.05"/>
<circle cx="552.1" cy="214.5" r="3" fill="none" stroke="#96447a" stroke-width="1.05"/>
<circle cx="552.1" cy="216.5" r="3" fill="none" stroke="#96447a" stroke-width="1.05"/>
<circle cx="552.1" cy="219.6" r="3" fill="none" stroke="#96447a" stroke-width="1.05"/>
<circle cx="552.1" cy="221.01" r="3" fill="none" stroke="#96447a" stroke-width="1.05"/>
<circle cx="552.1" cy="222.73" r="3" fill="none" stroke="#96447a" stroke-width="1.05"/>
<circle cx="552.1" cy="224.32" r="3" fill="none" stroke="#96447a" stroke-width="1.05"/>
<circle cx="552.1" cy="227.06" r="3" fill="none" stroke="#96447a" stroke-width="1.05"/>
<circle cx="552.1" cy="228.6" r="3" fill="none" stroke="#96447a" stroke-width="1.05"/>
<circle cx="552.1" cy="229.6" r="3" fill="none" stroke="#96447a" stroke-width="1.05"/>
<circle cx="552.1" cy="230.6" r="3" fill="none" stroke="#96447a" stroke-width="1.05"/>
<circle cx="552.1" cy="231.6" r="3" fill="none" stroke="#96447a" stroke-width="1.05"/>
<circle cx="552.1" cy="232.6" r="3" fill="none" stroke="#96447a" stroke-width="1.05"/>
<circle cx="552.1" cy="233.6" r="3" fill="none" stroke="#96447a" stroke-width="1.05"/>
<circle cx="552.1" cy="234.6" r="3" fill="none" stroke="#96447a" stroke-width="1.05"/>
<circle cx="552.1" cy="235.6" r="3" fill="none" stroke="#96447a" stroke-width="1.05"/>
<circle cx="552.1" cy="236.6" r="3" fill="none" stroke="#96447a" stroke-width="1.05"/>
<circle cx="552.1" cy="237.6" r="3" fill="none" stroke="#96447a" stroke-width="1.05"/>
<circle cx="552.1" cy="238.6" r="3" fill="none" stroke="#96447a" stroke-width="1.05"/>
<circle cx="552.1" cy="239.6" r="3" fill="none" stroke="#96447a" stroke-width="1.05"/>
<circle cx="552.1" cy="240.6" r="3" fill="none" stroke="#96447a" stroke-width="1.05"/>
<circle cx="552.1" cy="241.6" r="3" fill="none" stroke="#96447a" stroke-width="1.05"/>
<circle cx="552.1" cy="283" r="3" fill="none" stroke="#96447a" stroke-width="1.05"/>
<circle cx="552.1" cy="284" r="3" fill="none" stroke="#96447a" stroke-width="1.05"/>
<circle cx="552.1" cy="285" r="3" fill="none" stroke="#96447a" stroke-width="1.05"/>
<circle cx="552.1" cy="286" r="3" fill="none" stroke="#96447a" stroke-width="1.05"/>
<circle cx="552.1" cy="287" r="3" fill="none" stroke="#96447a" stroke-width="1.05"/>
<circle cx="552.1" cy="288" r="3" fill="none" stroke="#96447a" stroke-width="1.05"/>
<circle cx="552.1" cy="289" r="3" fill="none" stroke="#96447a" stroke-width="1.05"/>
<circle cx="552.1" cy="290" r="3" fill="none" stroke="#96447a" stroke-width="1.05"/>
<circle cx="552.1" cy="291" r="3" fill="none" stroke="#96447a" stroke-width="1.05"/>
<circle cx="552.1" cy="292" r="3" fill="none" stroke="#96447a" stroke-width="1.05"/>
<circle cx="552.1" cy="293" r="3" fill="none" stroke="#96447a" stroke-width="1.05"/>
<circle cx="552.1" cy="294" r="3" fill="none" stroke="#96447a" stroke-width="1.05"/>
<circle cx="552.1" cy="295" r="3" fill="none" stroke="#96447a" stroke-width="1.05"/>
<circle cx="552.1" cy="296" r="3" fill="none" stroke="#96447a" stroke-width="1.05"/>
<circle cx="552.1" cy="297" r="3" fill="none" stroke="#96447a" stroke-width="1.05"/>
<circle cx="552.1" cy="298" r="3" fill="none" stroke="#96447a" stroke-width="1.05"/>
<circle cx="552.1" cy="299" r="3" fill="none" stroke="#96447a" stroke-width="1.05"/>
<circle cx="552.1" cy="300" r="3" fill="none" stroke="#96447a" stroke-width="1.05"/>
<circle cx="552.1" cy="303.6" r="3" fill="none" stroke="#96447a" stroke-width="1.05"/>
<circle cx="552.1" cy="306" r="3" fill="none" stroke="#96447a" stroke-width="1.05"/>
<circle cx="552.1" cy="307.13" r="3" fill="none" stroke="#96447a" stroke-width="1.05"/>
<circle cx="552.1" cy="308.32" r="3" fill="none" stroke="#96447a" stroke-width="1.05"/>
<circle cx="552.1" cy="309.63" r="3" fill="none" stroke="#96447a" stroke-width="1.05"/>
<circle cx="552.1" cy="310.94" r="3" fill="none" stroke="#96447a" stroke-width="1.05"/>
<circle cx="552.1" cy="312.81" r="3" fill="none" stroke="#96447a" stroke-width="1.05"/>
<circle cx="552.1" cy="314.91" r="3" fill="none" stroke="#96447a" stroke-width="1.05"/>
<circle cx="552.1" cy="316.28" r="3" fill="none" stroke="#96447a" stroke-width="1.05"/>
<circle cx="552.1" cy="317.09" r="3" fill="none" stroke="#96447a" stroke-width="1.05"/>
<circle cx="552.1" cy="318.82" r="3" fill="none" stroke="#96447a" stroke-width="1.05"/>
<circle cx="552.1" cy="320.43" r="3" fill="none" stroke="#96447a" stroke-width="1.05"/>
<circle cx="552.1" cy="325" r="3" fill="none" stroke="#96447a" stroke-width="1.05"/>
<circle cx="552.1" cy="329.5" r="3" fill="none" stroke="#96447a" stroke-width="1.05"/>
<circle cx="552.1" cy="336.6" r="3" fill="none" stroke="#96447a" stroke-width="1.05"/>
<text x="306.25" y="231.25" font-size="30.79" fill="#110e0f">*</text>
<text x="317.36" y="222.59" font-size="24.59" fill="#110e0f" stroke="#110e0f" stroke-width="0.5" stroke-linejoin="round">,</text>
<text x="325.26" y="223.8" font-size="21.76" fill="#110e0f" stroke="#110e0f" stroke-width="0.7" stroke-linejoin="round">#</text>
<text transform="translate(167.88,490.65) rotate(-90)" font-size="14.2" fill="#110e0f">start</text>
<text transform="translate(208.93,485.12) rotate(-90)" font-size="14.2" fill="#110e0f">end</text>
<rect x="147.9" y="487" width="5.3" height="13" fill="#231f20"/>
<rect x="209.6" y="487" width="5.3" height="13" fill="#231f20"/>
<rect x="147.9" y="494.7" width="67" height="5.3" fill="#231f20"/>
<text x="167.65" y="530.63" font-size="22.7" fill="#110e0f">Co</text>
<text transform="translate(283.18,490.65) rotate(-90)" font-size="14.2" fill="#d9261c">start</text>
<text transform="translate(324.33,485.12) rotate(-90)" font-size="14.2" fill="#d9261c">end</text>
<rect x="263.7" y="487" width="5.3" height="13" fill="#d9261c"/>
<rect x="325.4" y="487" width="5.3" height="13" fill="#d9261c"/>
<rect x="263.7" y="494.7" width="67" height="5.3" fill="#d9261c"/>
<text x="283.28" y="530.63" font-size="22.7" fill="#d9261c">CR</text>
<text transform="translate(399.08,490.65) rotate(-90)" font-size="14.2" fill="#0094dc">start</text>
<text transform="translate(439.98,485.12) rotate(-90)" font-size="14.2" fill="#0094dc">end</text>
<rect x="379.3" y="487" width="5.3" height="13" fill="#0094dc"/>
<rect x="440.8" y="487" width="5.3" height="13" fill="#0094dc"/>
<rect x="379.3" y="494.7" width="66.8" height="5.3" fill="#0094dc"/>
<text x="396.88" y="530.63" font-size="22.7" fill="#0094dc">BB</text>
<text transform="translate(518.08,490.65) rotate(-90)" font-size="14.2" fill="#96447a">start</text>
<text transform="translate(555.38,485.12) rotate(-90)" font-size="14.2" fill="#96447a">end</text>
<rect x="498" y="487" width="5.3" height="13" fill="#96447a"/>
<rect x="559.7" y="487" width="5.3" height="13" fill="#96447a"/>
<rect x="498" y="494.7" width="67" height="5.3" fill="#96447a"/>
<text x="517.36" y="530.63" font-size="22.7" fill="#96447a">DF</text>
<text x="634.27" y="74" font-size="53.04" fill="#110e0f">B</text>
<line x1="776.6" y1="43" x2="776.6" y2="423.2" stroke="#161314" stroke-width="2.5" stroke-linecap="butt"/>
<line x1="776.6" y1="437.1" x2="776.6" y2="445.2" stroke="#161314" stroke-width="2.5" stroke-linecap="butt"/>
<line x1="767.1" y1="431.6" x2="783.7" y2="421.3" stroke="#161314" stroke-width="1.1" stroke-linecap="butt"/>
<line x1="767.1" y1="436.4" x2="783.7" y2="426.6" stroke="#161314" stroke-width="1.1" stroke-linecap="butt"/>
<line x1="768.4" y1="44.2" x2="777.5" y2="44.2" stroke="#161314" stroke-width="2.6" stroke-linecap="butt"/>
<text x="738.91" y="47.28" font-size="22.7" fill="#110e0f">60</text>
<line x1="768.4" y1="124.8" x2="777.5" y2="124.8" stroke="#161314" stroke-width="2.6" stroke-linecap="butt"/>
<text x="738.97" y="127.88" font-size="22.7" fill="#110e0f">50</text>
<line x1="768.4" y1="205" x2="777.5" y2="205" stroke="#161314" stroke-width="2.6" stroke-linecap="butt"/>
<text x="739.14" y="208.08" font-size="22.7" fill="#110e0f">40</text>
<line x1="768.4" y1="285.2" x2="777.5" y2="285.2" stroke="#161314" stroke-width="2.6" stroke-linecap="butt"/>
<text x="739.02" y="288.28" font-size="22.7" fill="#110e0f">30</text>
<line x1="768.4" y1="365.6" x2="777.5" y2="365.6" stroke="#161314" stroke-width="2.6" stroke-linecap="butt"/>
<text x="738.91" y="368.68" font-size="22.7" fill="#110e0f">20</text>
<line x1="775.4" y1="444" x2="1224.8" y2="444" stroke="#161314" stroke-width="2.6" stroke-linecap="butt"/>
<line x1="812.8" y1="444" x2="812.8" y2="451" stroke="#161314" stroke-width="3.2" stroke-linecap="butt"/>
<line x1="855.3" y1="444" x2="855.3" y2="451" stroke="#161314" stroke-width="3.2" stroke-linecap="butt"/>
<line x1="925.2" y1="444" x2="925.2" y2="451" stroke="#161314" stroke-width="3.2" stroke-linecap="butt"/>
<line x1="966.6" y1="444" x2="966.6" y2="451" stroke="#161314" stroke-width="3.2" stroke-linecap="butt"/>
<line x1="1036.4" y1="444" x2="1036.4" y2="451" stroke="#161314" stroke-width="3.2" stroke-linecap="butt"/>
<line x1="1077.7" y1="444" x2="1077.7" y2="451" stroke="#161314" stroke-width="3.2" stroke-linecap="butt"/>
<line x1="1147.3" y1="444" x2="1147.3" y2="451" stroke="#161314" stroke-width="3.2" stroke-linecap="butt"/>
<line x1="1189.8" y1="444" x2="1189.8" y2="451" stroke="#161314" stroke-width="3.2" stroke-linecap="butt"/>
<text transform="translate(691.68,311.76) rotate(-90)" font-size="22.05" fill="#110e0f">abdominal aorta</text>
<text transform="translate(715.94,352.16) rotate(-90)" font-size="22.47" fill="#110e0f">pulse pressure [mmHg]</text>
<text x="1086.75" y="430.64" font-size="22.5" fill="#110e0f" style="font-style:italic;font-weight:normal">activity time</text>
<line x1="813.3" y1="171.7" x2="813.3" y2="188.6" stroke="#161314" stroke-width="2.8" stroke-linecap="butt"/>
<line x1="813.3" y1="250.7" x2="813.3" y2="269.2" stroke="#161314" stroke-width="2.8" stroke-linecap="butt"/>
<line x1="804.9" y1="171.7" x2="821.7" y2="171.7" stroke="#161314" stroke-width="2.8" stroke-linecap="butt"/>
<line x1="804.9" y1="269.2" x2="821.7" y2="269.2" stroke="#161314" stroke-width="2.8" stroke-linecap="butt"/>
<rect x="800.15" y="189.95" width="26.1" height="59.4" fill="none" stroke="#161314" stroke-width="2.7"/>
<line x1="800.15" y1="222.9" x2="826.25" y2="222.9" stroke="#161314" stroke-width="2.7" stroke-linecap="butt"/>
<circle cx="813.3" cy="135.5" r="3.45" fill="none" stroke="#161314" stroke-width="1.05"/>
<circle cx="813.3" cy="138" r="3.45" fill="none" stroke="#161314" stroke-width="1.05"/>
<circle cx="813.3" cy="140.5" r="3.45" fill="none" stroke="#161314" stroke-width="1.05"/>
<circle cx="813.3" cy="143.5" r="3.45" fill="none" stroke="#161314" stroke-width="1.05"/>
<circle cx="813.3" cy="146" r="3.45" fill="none" stroke="#161314" stroke-width="1.05"/>
<circle cx="813.3" cy="148.9" r="3.45" fill="none" stroke="#161314" stroke-width="1.05"/>
<circle cx="813.3" cy="151.22" r="3.45" fill="none" stroke="#161314" stroke-width="1.05"/>
<circle cx="813.3" cy="153.15" r="3.45" fill="none" stroke="#161314" stroke-width="1.05"/>
<circle cx="813.3" cy="155.31" r="3.45" fill="none" stroke="#161314" stroke-width="1.05"/>
<circle cx="813.3" cy="157.6" r="3.45" fill="none" stroke="#161314" stroke-width="1.05"/>
<circle cx="813.3" cy="158.52" r="3.45" fill="none" stroke="#161314" stroke-width="1.05"/>
<circle cx="813.3" cy="161.29" r="3.45" fill="none" stroke="#161314" stroke-width="1.05"/>
<circle cx="813.3" cy="163.81" r="3.45" fill="none" stroke="#161314" stroke-width="1.05"/>
<circle cx="813.3" cy="165" r="3.45" fill="none" stroke="#161314" stroke-width="1.05"/>
<circle cx="813.3" cy="166" r="3.45" fill="none" stroke="#161314" stroke-width="1.05"/>
<circle cx="813.3" cy="167" r="3.45" fill="none" stroke="#161314" stroke-width="1.05"/>
<circle cx="813.3" cy="168" r="3.45" fill="none" stroke="#161314" stroke-width="1.05"/>
<circle cx="813.3" cy="169" r="3.45" fill="none" stroke="#161314" stroke-width="1.05"/>
<circle cx="813.3" cy="170" r="3.45" fill="none" stroke="#161314" stroke-width="1.05"/>
<circle cx="813.3" cy="171" r="3.45" fill="none" stroke="#161314" stroke-width="1.05"/>
<circle cx="813.3" cy="269.2" r="3.45" fill="none" stroke="#161314" stroke-width="1.05"/>
<circle cx="813.3" cy="270.2" r="3.45" fill="none" stroke="#161314" stroke-width="1.05"/>
<circle cx="813.3" cy="271.2" r="3.45" fill="none" stroke="#161314" stroke-width="1.05"/>
<circle cx="813.3" cy="272.2" r="3.45" fill="none" stroke="#161314" stroke-width="1.05"/>
<circle cx="813.3" cy="273.2" r="3.45" fill="none" stroke="#161314" stroke-width="1.05"/>
<circle cx="813.3" cy="274.2" r="3.45" fill="none" stroke="#161314" stroke-width="1.05"/>
<circle cx="813.3" cy="275.2" r="3.45" fill="none" stroke="#161314" stroke-width="1.05"/>
<circle cx="813.3" cy="276.2" r="3.45" fill="none" stroke="#161314" stroke-width="1.05"/>
<circle cx="813.3" cy="277.2" r="3.45" fill="none" stroke="#161314" stroke-width="1.05"/>
<circle cx="813.3" cy="278.2" r="3.45" fill="none" stroke="#161314" stroke-width="1.05"/>
<circle cx="813.3" cy="278.7" r="3.45" fill="none" stroke="#161314" stroke-width="1.05"/>
<circle cx="813.3" cy="281.26" r="3.45" fill="none" stroke="#161314" stroke-width="1.05"/>
<circle cx="813.3" cy="282.92" r="3.45" fill="none" stroke="#161314" stroke-width="1.05"/>
<circle cx="813.3" cy="284.6" r="3.45" fill="none" stroke="#161314" stroke-width="1.05"/>
<circle cx="813.3" cy="285.62" r="3.45" fill="none" stroke="#161314" stroke-width="1.05"/>
<circle cx="813.3" cy="287.82" r="3.45" fill="none" stroke="#161314" stroke-width="1.05"/>
<circle cx="813.3" cy="288.76" r="3.45" fill="none" stroke="#161314" stroke-width="1.05"/>
<circle cx="813.3" cy="289.7" r="3.45" fill="none" stroke="#161314" stroke-width="1.05"/>
<circle cx="813.3" cy="290.96" r="3.45" fill="none" stroke="#161314" stroke-width="1.05"/>
<circle cx="813.3" cy="292.12" r="3.45" fill="none" stroke="#161314" stroke-width="1.05"/>
<circle cx="813.3" cy="293.67" r="3.45" fill="none" stroke="#161314" stroke-width="1.05"/>
<circle cx="813.3" cy="294.58" r="3.45" fill="none" stroke="#161314" stroke-width="1.05"/>
<circle cx="813.3" cy="295.39" r="3.45" fill="none" stroke="#161314" stroke-width="1.05"/>
<circle cx="813.3" cy="296.52" r="3.45" fill="none" stroke="#161314" stroke-width="1.05"/>
<circle cx="813.3" cy="297.54" r="3.45" fill="none" stroke="#161314" stroke-width="1.05"/>
<circle cx="813.3" cy="299.14" r="3.45" fill="none" stroke="#161314" stroke-width="1.05"/>
<circle cx="813.3" cy="300" r="3.45" fill="none" stroke="#161314" stroke-width="1.05"/>
<circle cx="813.3" cy="302.72" r="3.45" fill="none" stroke="#161314" stroke-width="1.05"/>
<circle cx="813.3" cy="306.5" r="3.45" fill="none" stroke="#161314" stroke-width="1.05"/>
<circle cx="813.3" cy="309.2" r="3.45" fill="none" stroke="#161314" stroke-width="1.05"/>
<line x1="855.4" y1="210.3" x2="855.4" y2="216.6" stroke="#161314" stroke-width="2.8" stroke-linecap="butt"/>
<line x1="855.4" y1="253.4" x2="855.4" y2="280.2" stroke="#161314" stroke-width="2.8" stroke-linecap="butt"/>
<line x1="847" y1="210.3" x2="863.8" y2="210.3" stroke="#161314" stroke-width="2.8" stroke-linecap="butt"/>
<line x1="847" y1="280.2" x2="863.8" y2="280.2" stroke="#161314" stroke-width="2.8" stroke-linecap="butt"/>
<rect x="841.65" y="217.95" width="27.2" height="34.1" fill="none" stroke="#161314" stroke-width="2.7"/>
<line x1="841.65" y1="229.2" x2="868.85" y2="229.2" stroke="#161314" stroke-width="2.7" stroke-linecap="butt"/>
<circle cx="855.4" cy="203.5" r="3.45" fill="none" stroke="#161314" stroke-width="1.05"/>
<circle cx="855.4" cy="205.5" r="3.45" fill="none" stroke="#161314" stroke-width="1.05"/>
<circle cx="855.4" cy="207.5" r="3.45" fill="none" stroke="#161314" stroke-width="1.05"/>
<circle cx="855.4" cy="209.5" r="3.45" fill="none" stroke="#161314" stroke-width="1.05"/>
<circle cx="855.4" cy="282.9" r="3.45" fill="none" stroke="#161314" stroke-width="1.05"/>
<circle cx="855.4" cy="286.5" r="3.45" fill="none" stroke="#161314" stroke-width="1.05"/>
<circle cx="855.4" cy="290.3" r="3.45" fill="none" stroke="#161314" stroke-width="1.05"/>
<circle cx="855.4" cy="294" r="3.45" fill="none" stroke="#161314" stroke-width="1.05"/>
<circle cx="855.4" cy="297.6" r="3.45" fill="none" stroke="#161314" stroke-width="1.05"/>
<circle cx="855.4" cy="298.6" r="3.45" fill="none" stroke="#161314" stroke-width="1.05"/>
<circle cx="855.4" cy="299.6" r="3.45" fill="none" stroke="#161314" stroke-width="1.05"/>
<circle cx="855.4" cy="300.6" r="3.45" fill="none" stroke="#161314" stroke-width="1.05"/>
<circle cx="855.4" cy="301.6" r="3.45" fill="none" stroke="#161314" stroke-width="1.05"/>
<circle cx="855.4" cy="306" r="3.45" fill="none" stroke="#161314" stroke-width="1.05"/>
<circle cx="855.4" cy="310" r="3.45" fill="none" stroke="#161314" stroke-width="1.05"/>
<circle cx="855.4" cy="313" r="3.45" fill="none" stroke="#161314" stroke-width="1.05"/>
<circle cx="855.4" cy="316" r="3.45" fill="none" stroke="#161314" stroke-width="1.05"/>
<circle cx="855.4" cy="319" r="3.45" fill="none" stroke="#161314" stroke-width="1.05"/>
<circle cx="855.4" cy="322" r="3.45" fill="none" stroke="#161314" stroke-width="1.05"/>
<circle cx="855.4" cy="325" r="3.45" fill="none" stroke="#161314" stroke-width="1.05"/>
<circle cx="855.4" cy="328" r="3.45" fill="none" stroke="#161314" stroke-width="1.05"/>
<circle cx="855.4" cy="331" r="3.45" fill="none" stroke="#161314" stroke-width="1.05"/>
<circle cx="855.4" cy="334" r="3.45" fill="none" stroke="#161314" stroke-width="1.05"/>
<circle cx="855.4" cy="337" r="3.45" fill="none" stroke="#161314" stroke-width="1.05"/>
<circle cx="855.4" cy="348.6" r="3.45" fill="none" stroke="#161314" stroke-width="1.05"/>
<line x1="926.4" y1="192.1" x2="926.4" y2="205.9" stroke="#d9261c" stroke-width="2.8" stroke-linecap="butt"/>
<line x1="926.4" y1="256.2" x2="926.4" y2="278.2" stroke="#d9261c" stroke-width="2.8" stroke-linecap="butt"/>
<line x1="918" y1="192.1" x2="934.8" y2="192.1" stroke="#d9261c" stroke-width="2.8" stroke-linecap="butt"/>
<line x1="918" y1="278.2" x2="934.8" y2="278.2" stroke="#d9261c" stroke-width="2.8" stroke-linecap="butt"/>
<rect x="913.35" y="207.25" width="26" height="47.6" fill="none" stroke="#d9261c" stroke-width="2.7"/>
<line x1="913.35" y1="229.3" x2="939.35" y2="229.3" stroke="#d9261c" stroke-width="2.7" stroke-linecap="butt"/>
<circle cx="926.4" cy="146" r="3.45" fill="none" stroke="#d9261c" stroke-width="1.05"/>
<circle cx="926.4" cy="157.9" r="3.45" fill="none" stroke="#d9261c" stroke-width="1.05"/>
<circle cx="926.4" cy="160.6" r="3.45" fill="none" stroke="#d9261c" stroke-width="1.05"/>
<circle cx="926.4" cy="161.73" r="3.45" fill="none" stroke="#d9261c" stroke-width="1.05"/>
<circle cx="926.4" cy="163.08" r="3.45" fill="none" stroke="#d9261c" stroke-width="1.05"/>
<circle cx="926.4" cy="164.65" r="3.45" fill="none" stroke="#d9261c" stroke-width="1.05"/>
<circle cx="926.4" cy="166.25" r="3.45" fill="none" stroke="#d9261c" stroke-width="1.05"/>
<circle cx="926.4" cy="167.32" r="3.45" fill="none" stroke="#d9261c" stroke-width="1.05"/>
<circle cx="926.4" cy="169.99" r="3.45" fill="none" stroke="#d9261c" stroke-width="1.05"/>
<circle cx="926.4" cy="172.97" r="3.45" fill="none" stroke="#d9261c" stroke-width="1.05"/>
<circle cx="926.4" cy="174.8" r="3.45" fill="none" stroke="#d9261c" stroke-width="1.05"/>
<circle cx="926.4" cy="176.66" r="3.45" fill="none" stroke="#d9261c" stroke-width="1.05"/>
<circle cx="926.4" cy="177.65" r="3.45" fill="none" stroke="#d9261c" stroke-width="1.05"/>
<circle cx="926.4" cy="178.67" r="3.45" fill="none" stroke="#d9261c" stroke-width="1.05"/>
<circle cx="926.4" cy="180.23" r="3.45" fill="none" stroke="#d9261c" stroke-width="1.05"/>
<circle cx="926.4" cy="181.61" r="3.45" fill="none" stroke="#d9261c" stroke-width="1.05"/>
<circle cx="926.4" cy="184.23" r="3.45" fill="none" stroke="#d9261c" stroke-width="1.05"/>
<circle cx="926.4" cy="185.39" r="3.45" fill="none" stroke="#d9261c" stroke-width="1.05"/>
<circle cx="926.4" cy="186.24" r="3.45" fill="none" stroke="#d9261c" stroke-width="1.05"/>
<circle cx="926.4" cy="188.1" r="3.45" fill="none" stroke="#d9261c" stroke-width="1.05"/>
<circle cx="926.4" cy="189.1" r="3.45" fill="none" stroke="#d9261c" stroke-width="1.05"/>
<circle cx="926.4" cy="190.1" r="3.45" fill="none" stroke="#d9261c" stroke-width="1.05"/>
<circle cx="926.4" cy="191.1" r="3.45" fill="none" stroke="#d9261c" stroke-width="1.05"/>
<circle cx="926.4" cy="192.1" r="3.45" fill="none" stroke="#d9261c" stroke-width="1.05"/>
<circle cx="926.4" cy="278.2" r="3.45" fill="none" stroke="#d9261c" stroke-width="1.05"/>
<circle cx="926.4" cy="279.2" r="3.45" fill="none" stroke="#d9261c" stroke-width="1.05"/>
<circle cx="926.4" cy="280.2" r="3.45" fill="none" stroke="#d9261c" stroke-width="1.05"/>
<circle cx="926.4" cy="281.2" r="3.45" fill="none" stroke="#d9261c" stroke-width="1.05"/>
<circle cx="926.4" cy="282.2" r="3.45" fill="none" stroke="#d9261c" stroke-width="1.05"/>
<circle cx="926.4" cy="283" r="3.45" fill="none" stroke="#d9261c" stroke-width="1.05"/>
<circle cx="926.4" cy="284.96" r="3.45" fill="none" stroke="#d9261c" stroke-width="1.05"/>
<circle cx="926.4" cy="286.08" r="3.45" fill="none" stroke="#d9261c" stroke-width="1.05"/>
<circle cx="926.4" cy="288.08" r="3.45" fill="none" stroke="#d9261c" stroke-width="1.05"/>
<circle cx="926.4" cy="288.94" r="3.45" fill="none" stroke="#d9261c" stroke-width="1.05"/>
<circle cx="926.4" cy="290.9" r="3.45" fill="none" stroke="#d9261c" stroke-width="1.05"/>
<circle cx="926.4" cy="293.85" r="3.45" fill="none" stroke="#d9261c" stroke-width="1.05"/>
<circle cx="926.4" cy="296.55" r="3.45" fill="none" stroke="#d9261c" stroke-width="1.05"/>
<circle cx="926.4" cy="298.88" r="3.45" fill="none" stroke="#d9261c" stroke-width="1.05"/>
<circle cx="926.4" cy="300.26" r="3.45" fill="none" stroke="#d9261c" stroke-width="1.05"/>
<circle cx="926.4" cy="301.87" r="3.45" fill="none" stroke="#d9261c" stroke-width="1.05"/>
<circle cx="926.4" cy="303.03" r="3.45" fill="none" stroke="#d9261c" stroke-width="1.05"/>
<circle cx="926.4" cy="305.53" r="3.45" fill="none" stroke="#d9261c" stroke-width="1.05"/>
<circle cx="926.4" cy="307.5" r="3.45" fill="none" stroke="#d9261c" stroke-width="1.05"/>
<circle cx="926.4" cy="310.02" r="3.45" fill="none" stroke="#d9261c" stroke-width="1.05"/>
<circle cx="926.4" cy="311" r="3.45" fill="none" stroke="#d9261c" stroke-width="1.05"/>
<circle cx="926.4" cy="312" r="3.45" fill="none" stroke="#d9261c" stroke-width="1.05"/>
<circle cx="926.4" cy="313" r="3.45" fill="none" stroke="#d9261c" stroke-width="1.05"/>
<circle cx="926.4" cy="314" r="3.45" fill="none" stroke="#d9261c" stroke-width="1.05"/>
<circle cx="926.4" cy="315" r="3.45" fill="none" stroke="#d9261c" stroke-width="1.05"/>
<circle cx="926.4" cy="316" r="3.45" fill="none" stroke="#d9261c" stroke-width="1.05"/>
<circle cx="926.4" cy="319" r="3.45" fill="none" stroke="#d9261c" stroke-width="1.05"/>
<circle cx="926.4" cy="322.2" r="3.45" fill="none" stroke="#d9261c" stroke-width="1.05"/>
<line x1="966.9" y1="175.7" x2="966.9" y2="187.6" stroke="#d9261c" stroke-width="2.8" stroke-linecap="butt"/>
<line x1="966.9" y1="212.3" x2="966.9" y2="222.5" stroke="#d9261c" stroke-width="2.8" stroke-linecap="butt"/>
<line x1="958.5" y1="175.7" x2="975.3" y2="175.7" stroke="#d9261c" stroke-width="2.8" stroke-linecap="butt"/>
<line x1="958.5" y1="222.5" x2="975.3" y2="222.5" stroke="#d9261c" stroke-width="2.8" stroke-linecap="butt"/>
<rect x="953.65" y="188.95" width="26" height="22" fill="none" stroke="#d9261c" stroke-width="2.7"/>
<line x1="953.65" y1="198.2" x2="979.65" y2="198.2" stroke="#d9261c" stroke-width="2.7" stroke-linecap="butt"/>
<circle cx="966.9" cy="153.3" r="3.45" fill="none" stroke="#d9261c" stroke-width="1.05"/>
<circle cx="966.9" cy="155.5" r="3.45" fill="none" stroke="#d9261c" stroke-width="1.05"/>
<circle cx="966.9" cy="158" r="3.45" fill="none" stroke="#d9261c" stroke-width="1.05"/>
<circle cx="966.9" cy="160" r="3.45" fill="none" stroke="#d9261c" stroke-width="1.05"/>
<circle cx="966.9" cy="161.29" r="3.45" fill="none" stroke="#d9261c" stroke-width="1.05"/>
<circle cx="966.9" cy="163.88" r="3.45" fill="none" stroke="#d9261c" stroke-width="1.05"/>
<circle cx="966.9" cy="166.84" r="3.45" fill="none" stroke="#d9261c" stroke-width="1.05"/>
<circle cx="966.9" cy="169.52" r="3.45" fill="none" stroke="#d9261c" stroke-width="1.05"/>
<circle cx="966.9" cy="172" r="3.45" fill="none" stroke="#d9261c" stroke-width="1.05"/>
<circle cx="966.9" cy="173" r="3.45" fill="none" stroke="#d9261c" stroke-width="1.05"/>
<circle cx="966.9" cy="174" r="3.45" fill="none" stroke="#d9261c" stroke-width="1.05"/>
<circle cx="966.9" cy="175" r="3.45" fill="none" stroke="#d9261c" stroke-width="1.05"/>
<circle cx="966.9" cy="222.5" r="3.45" fill="none" stroke="#d9261c" stroke-width="1.05"/>
<circle cx="966.9" cy="223.5" r="3.45" fill="none" stroke="#d9261c" stroke-width="1.05"/>
<circle cx="966.9" cy="224.5" r="3.45" fill="none" stroke="#d9261c" stroke-width="1.05"/>
<circle cx="966.9" cy="225.5" r="3.45" fill="none" stroke="#d9261c" stroke-width="1.05"/>
<circle cx="966.9" cy="226" r="3.45" fill="none" stroke="#d9261c" stroke-width="1.05"/>
<circle cx="966.9" cy="228.6" r="3.45" fill="none" stroke="#d9261c" stroke-width="1.05"/>
<circle cx="966.9" cy="231.03" r="3.45" fill="none" stroke="#d9261c" stroke-width="1.05"/>
<circle cx="966.9" cy="232.33" r="3.45" fill="none" stroke="#d9261c" stroke-width="1.05"/>
<circle cx="966.9" cy="234.27" r="3.45" fill="none" stroke="#d9261c" stroke-width="1.05"/>
<circle cx="966.9" cy="235.85" r="3.45" fill="none" stroke="#d9261c" stroke-width="1.05"/>
<circle cx="966.9" cy="236.71" r="3.45" fill="none" stroke="#d9261c" stroke-width="1.05"/>
<circle cx="966.9" cy="238.5" r="3.45" fill="none" stroke="#d9261c" stroke-width="1.05"/>
<circle cx="966.9" cy="241" r="3.45" fill="none" stroke="#d9261c" stroke-width="1.05"/>
<circle cx="966.9" cy="243.1" r="3.45" fill="none" stroke="#d9261c" stroke-width="1.05"/>
<line x1="1037.9" y1="158.3" x2="1037.9" y2="190.7" stroke="#0094dc" stroke-width="2.8" stroke-linecap="butt"/>
<line x1="1037.9" y1="259" x2="1037.9" y2="280.6" stroke="#0094dc" stroke-width="2.8" stroke-linecap="butt"/>
<line x1="1029.5" y1="158.3" x2="1046.3" y2="158.3" stroke="#0094dc" stroke-width="2.8" stroke-linecap="butt"/>
<line x1="1029.5" y1="280.6" x2="1046.3" y2="280.6" stroke="#0094dc" stroke-width="2.8" stroke-linecap="butt"/>
<rect x="1024.95" y="192.05" width="25.7" height="65.6" fill="none" stroke="#0094dc" stroke-width="2.7"/>
<line x1="1024.95" y1="221.7" x2="1050.65" y2="221.7" stroke="#0094dc" stroke-width="2.7" stroke-linecap="butt"/>
<circle cx="1037.9" cy="53.1" r="3.45" fill="none" stroke="#0094dc" stroke-width="1.05"/>
<circle cx="1037.9" cy="57.1" r="3.45" fill="none" stroke="#0094dc" stroke-width="1.05"/>
<circle cx="1037.9" cy="58.51" r="3.45" fill="none" stroke="#0094dc" stroke-width="1.05"/>
<circle cx="1037.9" cy="59.88" r="3.45" fill="none" stroke="#0094dc" stroke-width="1.05"/>
<circle cx="1037.9" cy="62.21" r="3.45" fill="none" stroke="#0094dc" stroke-width="1.05"/>
<circle cx="1037.9" cy="65.11" r="3.45" fill="none" stroke="#0094dc" stroke-width="1.05"/>
<circle cx="1037.9" cy="66.9" r="3.45" fill="none" stroke="#0094dc" stroke-width="1.05"/>
<circle cx="1037.9" cy="69.76" r="3.45" fill="none" stroke="#0094dc" stroke-width="1.05"/>
<circle cx="1037.9" cy="72.73" r="3.45" fill="none" stroke="#0094dc" stroke-width="1.05"/>
<circle cx="1037.9" cy="75.63" r="3.45" fill="none" stroke="#0094dc" stroke-width="1.05"/>
<circle cx="1037.9" cy="77.24" r="3.45" fill="none" stroke="#0094dc" stroke-width="1.05"/>
<circle cx="1037.9" cy="78.52" r="3.45" fill="none" stroke="#0094dc" stroke-width="1.05"/>
<circle cx="1037.9" cy="79.82" r="3.45" fill="none" stroke="#0094dc" stroke-width="1.05"/>
<circle cx="1037.9" cy="81.05" r="3.45" fill="none" stroke="#0094dc" stroke-width="1.05"/>
<circle cx="1037.9" cy="82.3" r="3.45" fill="none" stroke="#0094dc" stroke-width="1.05"/>
<circle cx="1037.9" cy="84.47" r="3.45" fill="none" stroke="#0094dc" stroke-width="1.05"/>
<circle cx="1037.9" cy="87.26" r="3.45" fill="none" stroke="#0094dc" stroke-width="1.05"/>
<circle cx="1037.9" cy="89.9" r="3.45" fill="none" stroke="#0094dc" stroke-width="1.05"/>
<circle cx="1037.9" cy="91.76" r="3.45" fill="none" stroke="#0094dc" stroke-width="1.05"/>
<circle cx="1037.9" cy="94" r="3.45" fill="none" stroke="#0094dc" stroke-width="1.05"/>
<circle cx="1037.9" cy="96.55" r="3.45" fill="none" stroke="#0094dc" stroke-width="1.05"/>
<circle cx="1037.9" cy="97.54" r="3.45" fill="none" stroke="#0094dc" stroke-width="1.05"/>
<circle cx="1037.9" cy="99.79" r="3.45" fill="none" stroke="#0094dc" stroke-width="1.05"/>
<circle cx="1037.9" cy="102.6" r="3.45" fill="none" stroke="#0094dc" stroke-width="1.05"/>
<circle cx="1037.9" cy="105.12" r="3.45" fill="none" stroke="#0094dc" stroke-width="1.05"/>
<circle cx="1037.9" cy="108.4" r="3.45" fill="none" stroke="#0094dc" stroke-width="1.05"/>
<circle cx="1037.9" cy="112.5" r="3.45" fill="none" stroke="#0094dc" stroke-width="1.05"/>
<circle cx="1037.9" cy="114.35" r="3.45" fill="none" stroke="#0094dc" stroke-width="1.05"/>
<circle cx="1037.9" cy="115.54" r="3.45" fill="none" stroke="#0094dc" stroke-width="1.05"/>
<circle cx="1037.9" cy="118.08" r="3.45" fill="none" stroke="#0094dc" stroke-width="1.05"/>
<circle cx="1037.9" cy="119.61" r="3.45" fill="none" stroke="#0094dc" stroke-width="1.05"/>
<circle cx="1037.9" cy="122.17" r="3.45" fill="none" stroke="#0094dc" stroke-width="1.05"/>
<circle cx="1037.9" cy="125.11" r="3.45" fill="none" stroke="#0094dc" stroke-width="1.05"/>
<circle cx="1037.9" cy="126.78" r="3.45" fill="none" stroke="#0094dc" stroke-width="1.05"/>
<circle cx="1037.9" cy="128.47" r="3.45" fill="none" stroke="#0094dc" stroke-width="1.05"/>
<circle cx="1037.9" cy="131.35" r="3.45" fill="none" stroke="#0094dc" stroke-width="1.05"/>
<circle cx="1037.9" cy="133.74" r="3.45" fill="none" stroke="#0094dc" stroke-width="1.05"/>
<circle cx="1037.9" cy="134.92" r="3.45" fill="none" stroke="#0094dc" stroke-width="1.05"/>
<circle cx="1037.9" cy="136" r="3.45" fill="none" stroke="#0094dc" stroke-width="1.05"/>
<circle cx="1037.9" cy="137.13" r="3.45" fill="none" stroke="#0094dc" stroke-width="1.05"/>
<circle cx="1037.9" cy="139.92" r="3.45" fill="none" stroke="#0094dc" stroke-width="1.05"/>
<circle cx="1037.9" cy="142.49" r="3.45" fill="none" stroke="#0094dc" stroke-width="1.05"/>
<circle cx="1037.9" cy="143.62" r="3.45" fill="none" stroke="#0094dc" stroke-width="1.05"/>
<circle cx="1037.9" cy="146.23" r="3.45" fill="none" stroke="#0094dc" stroke-width="1.05"/>
<circle cx="1037.9" cy="149.19" r="3.45" fill="none" stroke="#0094dc" stroke-width="1.05"/>
<circle cx="1037.9" cy="150.2" r="3.45" fill="none" stroke="#0094dc" stroke-width="1.05"/>
<circle cx="1037.9" cy="151.2" r="3.45" fill="none" stroke="#0094dc" stroke-width="1.05"/>
<circle cx="1037.9" cy="152.2" r="3.45" fill="none" stroke="#0094dc" stroke-width="1.05"/>
<circle cx="1037.9" cy="153.2" r="3.45" fill="none" stroke="#0094dc" stroke-width="1.05"/>
<circle cx="1037.9" cy="154.2" r="3.45" fill="none" stroke="#0094dc" stroke-width="1.05"/>
<circle cx="1037.9" cy="155.2" r="3.45" fill="none" stroke="#0094dc" stroke-width="1.05"/>
<circle cx="1037.9" cy="156.2" r="3.45" fill="none" stroke="#0094dc" stroke-width="1.05"/>
<circle cx="1037.9" cy="157.2" r="3.45" fill="none" stroke="#0094dc" stroke-width="1.05"/>
<circle cx="1037.9" cy="158.2" r="3.45" fill="none" stroke="#0094dc" stroke-width="1.05"/>
<circle cx="1037.9" cy="280.6" r="3.45" fill="none" stroke="#0094dc" stroke-width="1.05"/>
<circle cx="1037.9" cy="281.6" r="3.45" fill="none" stroke="#0094dc" stroke-width="1.05"/>
<circle cx="1037.9" cy="282.6" r="3.45" fill="none" stroke="#0094dc" stroke-width="1.05"/>
<circle cx="1037.9" cy="283.6" r="3.45" fill="none" stroke="#0094dc" stroke-width="1.05"/>
<circle cx="1037.9" cy="284.6" r="3.45" fill="none" stroke="#0094dc" stroke-width="1.05"/>
<circle cx="1037.9" cy="285.6" r="3.45" fill="none" stroke="#0094dc" stroke-width="1.05"/>
<circle cx="1037.9" cy="286.6" r="3.45" fill="none" stroke="#0094dc" stroke-width="1.05"/>
<circle cx="1037.9" cy="287.6" r="3.45" fill="none" stroke="#0094dc" stroke-width="1.05"/>
<circle cx="1037.9" cy="287.8" r="3.45" fill="none" stroke="#0094dc" stroke-width="1.05"/>
<circle cx="1037.9" cy="289.37" r="3.45" fill="none" stroke="#0094dc" stroke-width="1.05"/>
<circle cx="1037.9" cy="291.38" r="3.45" fill="none" stroke="#0094dc" stroke-width="1.05"/>
<circle cx="1037.9" cy="292.47" r="3.45" fill="none" stroke="#0094dc" stroke-width="1.05"/>
<circle cx="1037.9" cy="293.3" r="3.45" fill="none" stroke="#0094dc" stroke-width="1.05"/>
<circle cx="1037.9" cy="296.23" r="3.45" fill="none" stroke="#0094dc" stroke-width="1.05"/>
<circle cx="1037.9" cy="298.46" r="3.45" fill="none" stroke="#0094dc" stroke-width="1.05"/>
<circle cx="1037.9" cy="300.42" r="3.45" fill="none" stroke="#0094dc" stroke-width="1.05"/>
<circle cx="1037.9" cy="303.28" r="3.45" fill="none" stroke="#0094dc" stroke-width="1.05"/>
<circle cx="1037.9" cy="305.03" r="3.45" fill="none" stroke="#0094dc" stroke-width="1.05"/>
<circle cx="1037.9" cy="307.75" r="3.45" fill="none" stroke="#0094dc" stroke-width="1.05"/>
<circle cx="1037.9" cy="310.36" r="3.45" fill="none" stroke="#0094dc" stroke-width="1.05"/>
<circle cx="1037.9" cy="311.63" r="3.45" fill="none" stroke="#0094dc" stroke-width="1.05"/>
<circle cx="1037.9" cy="312.98" r="3.45" fill="none" stroke="#0094dc" stroke-width="1.05"/>
<circle cx="1037.9" cy="314.43" r="3.45" fill="none" stroke="#0094dc" stroke-width="1.05"/>
<circle cx="1037.9" cy="315.76" r="3.45" fill="none" stroke="#0094dc" stroke-width="1.05"/>
<circle cx="1037.9" cy="317.85" r="3.45" fill="none" stroke="#0094dc" stroke-width="1.05"/>
<circle cx="1037.9" cy="319.22" r="3.45" fill="none" stroke="#0094dc" stroke-width="1.05"/>
<circle cx="1037.9" cy="320.94" r="3.45" fill="none" stroke="#0094dc" stroke-width="1.05"/>
<circle cx="1037.9" cy="322.03" r="3.45" fill="none" stroke="#0094dc" stroke-width="1.05"/>
<circle cx="1037.9" cy="324.83" r="3.45" fill="none" stroke="#0094dc" stroke-width="1.05"/>
<circle cx="1037.9" cy="328" r="3.45" fill="none" stroke="#0094dc" stroke-width="1.05"/>
<circle cx="1037.9" cy="330.5" r="3.45" fill="none" stroke="#0094dc" stroke-width="1.05"/>
<line x1="1077.6" y1="201" x2="1077.6" y2="222.3" stroke="#0094dc" stroke-width="2.8" stroke-linecap="butt"/>
<line x1="1077.6" y1="255.5" x2="1077.6" y2="269" stroke="#0094dc" stroke-width="2.8" stroke-linecap="butt"/>
<line x1="1069.2" y1="201" x2="1086" y2="201" stroke="#0094dc" stroke-width="2.8" stroke-linecap="butt"/>
<line x1="1069.2" y1="269" x2="1086" y2="269" stroke="#0094dc" stroke-width="2.8" stroke-linecap="butt"/>
<rect x="1064.95" y="223.65" width="26.1" height="30.5" fill="none" stroke="#0094dc" stroke-width="2.7"/>
<line x1="1064.95" y1="238.7" x2="1091.05" y2="238.7" stroke="#0094dc" stroke-width="2.7" stroke-linecap="butt"/>
<circle cx="1077.6" cy="169.1" r="3.45" fill="none" stroke="#0094dc" stroke-width="1.05"/>
<circle cx="1077.6" cy="171" r="3.45" fill="none" stroke="#0094dc" stroke-width="1.05"/>
<circle cx="1077.6" cy="172.81" r="3.45" fill="none" stroke="#0094dc" stroke-width="1.05"/>
<circle cx="1077.6" cy="174.89" r="3.45" fill="none" stroke="#0094dc" stroke-width="1.05"/>
<circle cx="1077.6" cy="177.68" r="3.45" fill="none" stroke="#0094dc" stroke-width="1.05"/>
<circle cx="1077.6" cy="179.41" r="3.45" fill="none" stroke="#0094dc" stroke-width="1.05"/>
<circle cx="1077.6" cy="182.23" r="3.45" fill="none" stroke="#0094dc" stroke-width="1.05"/>
<circle cx="1077.6" cy="184.13" r="3.45" fill="none" stroke="#0094dc" stroke-width="1.05"/>
<circle cx="1077.6" cy="186.1" r="3.45" fill="none" stroke="#0094dc" stroke-width="1.05"/>
<circle cx="1077.6" cy="188.05" r="3.45" fill="none" stroke="#0094dc" stroke-width="1.05"/>
<circle cx="1077.6" cy="188.89" r="3.45" fill="none" stroke="#0094dc" stroke-width="1.05"/>
<circle cx="1077.6" cy="190.66" r="3.45" fill="none" stroke="#0094dc" stroke-width="1.05"/>
<circle cx="1077.6" cy="191.86" r="3.45" fill="none" stroke="#0094dc" stroke-width="1.05"/>
<circle cx="1077.6" cy="192.67" r="3.45" fill="none" stroke="#0094dc" stroke-width="1.05"/>
<circle cx="1077.6" cy="195.23" r="3.45" fill="none" stroke="#0094dc" stroke-width="1.05"/>
<circle cx="1077.6" cy="196" r="3.45" fill="none" stroke="#0094dc" stroke-width="1.05"/>
<circle cx="1077.6" cy="197" r="3.45" fill="none" stroke="#0094dc" stroke-width="1.05"/>
<circle cx="1077.6" cy="198" r="3.45" fill="none" stroke="#0094dc" stroke-width="1.05"/>
<circle cx="1077.6" cy="199" r="3.45" fill="none" stroke="#0094dc" stroke-width="1.05"/>
<circle cx="1077.6" cy="200" r="3.45" fill="none" stroke="#0094dc" stroke-width="1.05"/>
<circle cx="1077.6" cy="201" r="3.45" fill="none" stroke="#0094dc" stroke-width="1.05"/>
<circle cx="1077.6" cy="269" r="3.45" fill="none" stroke="#0094dc" stroke-width="1.05"/>
<circle cx="1077.6" cy="270" r="3.45" fill="none" stroke="#0094dc" stroke-width="1.05"/>
<circle cx="1077.6" cy="271" r="3.45" fill="none" stroke="#0094dc" stroke-width="1.05"/>
<circle cx="1077.6" cy="272" r="3.45" fill="none" stroke="#0094dc" stroke-width="1.05"/>
<circle cx="1077.6" cy="273" r="3.45" fill="none" stroke="#0094dc" stroke-width="1.05"/>
<circle cx="1077.6" cy="274" r="3.45" fill="none" stroke="#0094dc" stroke-width="1.05"/>
<circle cx="1077.6" cy="275" r="3.45" fill="none" stroke="#0094dc" stroke-width="1.05"/>
<circle cx="1077.6" cy="275" r="3.45" fill="none" stroke="#0094dc" stroke-width="1.05"/>
<circle cx="1077.6" cy="276.84" r="3.45" fill="none" stroke="#0094dc" stroke-width="1.05"/>
<circle cx="1077.6" cy="279.24" r="3.45" fill="none" stroke="#0094dc" stroke-width="1.05"/>
<circle cx="1077.6" cy="281.26" r="3.45" fill="none" stroke="#0094dc" stroke-width="1.05"/>
<circle cx="1077.6" cy="282.78" r="3.45" fill="none" stroke="#0094dc" stroke-width="1.05"/>
<circle cx="1077.6" cy="284.72" r="3.45" fill="none" stroke="#0094dc" stroke-width="1.05"/>
<circle cx="1077.6" cy="286.74" r="3.45" fill="none" stroke="#0094dc" stroke-width="1.05"/>
<circle cx="1077.6" cy="289.27" r="3.45" fill="none" stroke="#0094dc" stroke-width="1.05"/>
<circle cx="1077.6" cy="290.3" r="3.45" fill="none" stroke="#0094dc" stroke-width="1.05"/>
<circle cx="1077.6" cy="292.33" r="3.45" fill="none" stroke="#0094dc" stroke-width="1.05"/>
<circle cx="1077.6" cy="293.68" r="3.45" fill="none" stroke="#0094dc" stroke-width="1.05"/>
<circle cx="1077.6" cy="295.09" r="3.45" fill="none" stroke="#0094dc" stroke-width="1.05"/>
<circle cx="1077.6" cy="300" r="3.45" fill="none" stroke="#0094dc" stroke-width="1.05"/>
<line x1="1145" y1="187.3" x2="1145" y2="204.6" stroke="#96447a" stroke-width="2.8" stroke-linecap="butt"/>
<line x1="1145" y1="250.7" x2="1145" y2="268.9" stroke="#96447a" stroke-width="2.8" stroke-linecap="butt"/>
<line x1="1136.6" y1="187.3" x2="1153.4" y2="187.3" stroke="#96447a" stroke-width="2.8" stroke-linecap="butt"/>
<line x1="1136.6" y1="268.9" x2="1153.4" y2="268.9" stroke="#96447a" stroke-width="2.8" stroke-linecap="butt"/>
<rect x="1130.85" y="205.95" width="27.6" height="43.4" fill="none" stroke="#96447a" stroke-width="2.7"/>
<line x1="1130.85" y1="227.5" x2="1158.45" y2="227.5" stroke="#96447a" stroke-width="2.7" stroke-linecap="butt"/>
<circle cx="1145" cy="147.5" r="3.45" fill="none" stroke="#96447a" stroke-width="1.05"/>
<circle cx="1145" cy="150" r="3.45" fill="none" stroke="#96447a" stroke-width="1.05"/>
<circle cx="1145" cy="151.92" r="3.45" fill="none" stroke="#96447a" stroke-width="1.05"/>
<circle cx="1145" cy="153.95" r="3.45" fill="none" stroke="#96447a" stroke-width="1.05"/>
<circle cx="1145" cy="156.42" r="3.45" fill="none" stroke="#96447a" stroke-width="1.05"/>
<circle cx="1145" cy="159.23" r="3.45" fill="none" stroke="#96447a" stroke-width="1.05"/>
<circle cx="1145" cy="161.01" r="3.45" fill="none" stroke="#96447a" stroke-width="1.05"/>
<circle cx="1145" cy="163.15" r="3.45" fill="none" stroke="#96447a" stroke-width="1.05"/>
<circle cx="1145" cy="165.07" r="3.45" fill="none" stroke="#96447a" stroke-width="1.05"/>
<circle cx="1145" cy="166.99" r="3.45" fill="none" stroke="#96447a" stroke-width="1.05"/>
<circle cx="1145" cy="169.32" r="3.45" fill="none" stroke="#96447a" stroke-width="1.05"/>
<circle cx="1145" cy="171.11" r="3.45" fill="none" stroke="#96447a" stroke-width="1.05"/>
<circle cx="1145" cy="173.09" r="3.45" fill="none" stroke="#96447a" stroke-width="1.05"/>
<circle cx="1145" cy="174.94" r="3.45" fill="none" stroke="#96447a" stroke-width="1.05"/>
<circle cx="1145" cy="177.81" r="3.45" fill="none" stroke="#96447a" stroke-width="1.05"/>
<circle cx="1145" cy="180.15" r="3.45" fill="none" stroke="#96447a" stroke-width="1.05"/>
<circle cx="1145" cy="182" r="3.45" fill="none" stroke="#96447a" stroke-width="1.05"/>
<circle cx="1145" cy="183" r="3.45" fill="none" stroke="#96447a" stroke-width="1.05"/>
<circle cx="1145" cy="184" r="3.45" fill="none" stroke="#96447a" stroke-width="1.05"/>
<circle cx="1145" cy="185" r="3.45" fill="none" stroke="#96447a" stroke-width="1.05"/>
<circle cx="1145" cy="186" r="3.45" fill="none" stroke="#96447a" stroke-width="1.05"/>
<circle cx="1145" cy="187" r="3.45" fill="none" stroke="#96447a" stroke-width="1.05"/>
<circle cx="1145" cy="268.9" r="3.45" fill="none" stroke="#96447a" stroke-width="1.05"/>
<circle cx="1145" cy="269.9" r="3.45" fill="none" stroke="#96447a" stroke-width="1.05"/>
<circle cx="1145" cy="270.9" r="3.45" fill="none" stroke="#96447a" stroke-width="1.05"/>
<circle cx="1145" cy="271.9" r="3.45" fill="none" stroke="#96447a" stroke-width="1.05"/>
<circle cx="1145" cy="272.9" r="3.45" fill="none" stroke="#96447a" stroke-width="1.05"/>
<circle cx="1145" cy="273.9" r="3.45" fill="none" stroke="#96447a" stroke-width="1.05"/>
<circle cx="1145" cy="274" r="3.45" fill="none" stroke="#96447a" stroke-width="1.05"/>
<circle cx="1145" cy="276.87" r="3.45" fill="none" stroke="#96447a" stroke-width="1.05"/>
<circle cx="1145" cy="278.24" r="3.45" fill="none" stroke="#96447a" stroke-width="1.05"/>
<circle cx="1145" cy="280.27" r="3.45" fill="none" stroke="#96447a" stroke-width="1.05"/>
<circle cx="1145" cy="283.15" r="3.45" fill="none" stroke="#96447a" stroke-width="1.05"/>
<circle cx="1145" cy="285.8" r="3.45" fill="none" stroke="#96447a" stroke-width="1.05"/>
<circle cx="1145" cy="286.9" r="3.45" fill="none" stroke="#96447a" stroke-width="1.05"/>
<circle cx="1145" cy="287.97" r="3.45" fill="none" stroke="#96447a" stroke-width="1.05"/>
<circle cx="1145" cy="289.74" r="3.45" fill="none" stroke="#96447a" stroke-width="1.05"/>
<circle cx="1145" cy="290.7" r="3.45" fill="none" stroke="#96447a" stroke-width="1.05"/>
<circle cx="1145" cy="292.03" r="3.45" fill="none" stroke="#96447a" stroke-width="1.05"/>
<circle cx="1145" cy="292.99" r="3.45" fill="none" stroke="#96447a" stroke-width="1.05"/>
<circle cx="1145" cy="295.26" r="3.45" fill="none" stroke="#96447a" stroke-width="1.05"/>
<circle cx="1145" cy="297.79" r="3.45" fill="none" stroke="#96447a" stroke-width="1.05"/>
<circle cx="1145" cy="303" r="3.45" fill="none" stroke="#96447a" stroke-width="1.05"/>
<circle cx="1145" cy="306" r="3.45" fill="none" stroke="#96447a" stroke-width="1.05"/>
<circle cx="1145" cy="309.1" r="3.45" fill="none" stroke="#96447a" stroke-width="1.05"/>
<line x1="1188.9" y1="184.6" x2="1188.9" y2="203.4" stroke="#96447a" stroke-width="2.8" stroke-linecap="butt"/>
<line x1="1188.9" y1="252.5" x2="1188.9" y2="270.7" stroke="#96447a" stroke-width="2.8" stroke-linecap="butt"/>
<line x1="1180.5" y1="184.6" x2="1197.3" y2="184.6" stroke="#96447a" stroke-width="2.8" stroke-linecap="butt"/>
<line x1="1180.5" y1="270.7" x2="1197.3" y2="270.7" stroke="#96447a" stroke-width="2.8" stroke-linecap="butt"/>
<rect x="1176.35" y="204.75" width="25.9" height="46.4" fill="none" stroke="#96447a" stroke-width="2.7"/>
<line x1="1176.35" y1="227.5" x2="1202.25" y2="227.5" stroke="#96447a" stroke-width="2.7" stroke-linecap="butt"/>
<circle cx="1188.9" cy="143" r="3.45" fill="none" stroke="#96447a" stroke-width="1.05"/>
<circle cx="1188.9" cy="145.5" r="3.45" fill="none" stroke="#96447a" stroke-width="1.05"/>
<circle cx="1188.9" cy="148" r="3.45" fill="none" stroke="#96447a" stroke-width="1.05"/>
<circle cx="1188.9" cy="149.14" r="3.45" fill="none" stroke="#96447a" stroke-width="1.05"/>
<circle cx="1188.9" cy="151.52" r="3.45" fill="none" stroke="#96447a" stroke-width="1.05"/>
<circle cx="1188.9" cy="153.77" r="3.45" fill="none" stroke="#96447a" stroke-width="1.05"/>
<circle cx="1188.9" cy="154.88" r="3.45" fill="none" stroke="#96447a" stroke-width="1.05"/>
<circle cx="1188.9" cy="157.62" r="3.45" fill="none" stroke="#96447a" stroke-width="1.05"/>
<circle cx="1188.9" cy="160.55" r="3.45" fill="none" stroke="#96447a" stroke-width="1.05"/>
<circle cx="1188.9" cy="161.84" r="3.45" fill="none" stroke="#96447a" stroke-width="1.05"/>
<circle cx="1188.9" cy="164.73" r="3.45" fill="none" stroke="#96447a" stroke-width="1.05"/>
<circle cx="1188.9" cy="166.41" r="3.45" fill="none" stroke="#96447a" stroke-width="1.05"/>
<circle cx="1188.9" cy="168.28" r="3.45" fill="none" stroke="#96447a" stroke-width="1.05"/>
<circle cx="1188.9" cy="171.26" r="3.45" fill="none" stroke="#96447a" stroke-width="1.05"/>
<circle cx="1188.9" cy="173.89" r="3.45" fill="none" stroke="#96447a" stroke-width="1.05"/>
<circle cx="1188.9" cy="175.04" r="3.45" fill="none" stroke="#96447a" stroke-width="1.05"/>
<circle cx="1188.9" cy="176.79" r="3.45" fill="none" stroke="#96447a" stroke-width="1.05"/>
<circle cx="1188.9" cy="178.73" r="3.45" fill="none" stroke="#96447a" stroke-width="1.05"/>
<circle cx="1188.9" cy="180" r="3.45" fill="none" stroke="#96447a" stroke-width="1.05"/>
<circle cx="1188.9" cy="181" r="3.45" fill="none" stroke="#96447a" stroke-width="1.05"/>
<circle cx="1188.9" cy="182" r="3.45" fill="none" stroke="#96447a" stroke-width="1.05"/>
<circle cx="1188.9" cy="183" r="3.45" fill="none" stroke="#96447a" stroke-width="1.05"/>
<circle cx="1188.9" cy="184" r="3.45" fill="none" stroke="#96447a" stroke-width="1.05"/>
<circle cx="1188.9" cy="270.7" r="3.45" fill="none" stroke="#96447a" stroke-width="1.05"/>
<circle cx="1188.9" cy="271.7" r="3.45" fill="none" stroke="#96447a" stroke-width="1.05"/>
<circle cx="1188.9" cy="272.7" r="3.45" fill="none" stroke="#96447a" stroke-width="1.05"/>
<circle cx="1188.9" cy="273.7" r="3.45" fill="none" stroke="#96447a" stroke-width="1.05"/>
<circle cx="1188.9" cy="274.7" r="3.45" fill="none" stroke="#96447a" stroke-width="1.05"/>
<circle cx="1188.9" cy="275.7" r="3.45" fill="none" stroke="#96447a" stroke-width="1.05"/>
<circle cx="1188.9" cy="276.7" r="3.45" fill="none" stroke="#96447a" stroke-width="1.05"/>
<circle cx="1188.9" cy="277" r="3.45" fill="none" stroke="#96447a" stroke-width="1.05"/>
<circle cx="1188.9" cy="278.23" r="3.45" fill="none" stroke="#96447a" stroke-width="1.05"/>
<circle cx="1188.9" cy="279.73" r="3.45" fill="none" stroke="#96447a" stroke-width="1.05"/>
<circle cx="1188.9" cy="282.12" r="3.45" fill="none" stroke="#96447a" stroke-width="1.05"/>
<circle cx="1188.9" cy="282.96" r="3.45" fill="none" stroke="#96447a" stroke-width="1.05"/>
<circle cx="1188.9" cy="284.98" r="3.45" fill="none" stroke="#96447a" stroke-width="1.05"/>
<circle cx="1188.9" cy="286.75" r="3.45" fill="none" stroke="#96447a" stroke-width="1.05"/>
<circle cx="1188.9" cy="287.59" r="3.45" fill="none" stroke="#96447a" stroke-width="1.05"/>
<circle cx="1188.9" cy="289.12" r="3.45" fill="none" stroke="#96447a" stroke-width="1.05"/>
<circle cx="1188.9" cy="291.29" r="3.45" fill="none" stroke="#96447a" stroke-width="1.05"/>
<circle cx="1188.9" cy="293.22" r="3.45" fill="none" stroke="#96447a" stroke-width="1.05"/>
<circle cx="1188.9" cy="294.16" r="3.45" fill="none" stroke="#96447a" stroke-width="1.05"/>
<circle cx="1188.9" cy="297.13" r="3.45" fill="none" stroke="#96447a" stroke-width="1.05"/>
<circle cx="1188.9" cy="299.66" r="3.45" fill="none" stroke="#96447a" stroke-width="1.05"/>
<circle cx="1188.9" cy="305.5" r="3.45" fill="none" stroke="#96447a" stroke-width="1.05"/>
<circle cx="1188.9" cy="308" r="3.45" fill="none" stroke="#96447a" stroke-width="1.05"/>
<circle cx="1188.9" cy="311" r="3.45" fill="none" stroke="#96447a" stroke-width="1.05"/>
<circle cx="1188.9" cy="314" r="3.45" fill="none" stroke="#96447a" stroke-width="1.05"/>
<circle cx="1188.9" cy="317" r="3.45" fill="none" stroke="#96447a" stroke-width="1.05"/>
<circle cx="1188.9" cy="320" r="3.45" fill="none" stroke="#96447a" stroke-width="1.05"/>
<circle cx="1188.9" cy="323.4" r="3.45" fill="none" stroke="#96447a" stroke-width="1.05"/>
<circle cx="855.4" cy="205.2" r="3.3" fill="#3a3637"/>
<text x="952.38" y="140.68" font-size="28.29" fill="#110e0f">*</text>
<text x="963.98" y="133.04" font-size="22.3" fill="#110e0f" stroke="#110e0f" stroke-width="0.5" stroke-linejoin="round">,</text>
<text x="971.66" y="133.8" font-size="21.03" fill="#110e0f" stroke="#110e0f" stroke-width="0.7" stroke-linejoin="round">#</text>
<text transform="translate(819.88,490.45) rotate(-90)" font-size="14.2" fill="#110e0f">start</text>
<text transform="translate(860.63,485.07) rotate(-90)" font-size="14.2" fill="#110e0f">end</text>
<rect x="800" y="487" width="5.3" height="12.9" fill="#231f20"/>
<rect x="861.4" y="487" width="5.3" height="12.9" fill="#231f20"/>
<rect x="800" y="494.6" width="66.7" height="5.3" fill="#231f20"/>
<text x="819.65" y="530.53" font-size="22.7" fill="#110e0f">Co</text>
<text transform="translate(930.43,490.45) rotate(-90)" font-size="14.2" fill="#d9261c">start</text>
<text transform="translate(971.78,485.07) rotate(-90)" font-size="14.2" fill="#d9261c">end</text>
<rect x="910.1" y="487" width="5.3" height="12.9" fill="#d9261c"/>
<rect x="972.1" y="487" width="5.3" height="12.9" fill="#d9261c"/>
<rect x="910.1" y="494.6" width="67.3" height="5.3" fill="#d9261c"/>
<text x="930.08" y="530.53" font-size="22.7" fill="#d9261c">CR</text>
<text transform="translate(1041.08,490.45) rotate(-90)" font-size="14.2" fill="#0094dc">start</text>
<text transform="translate(1082.13,485.07) rotate(-90)" font-size="14.2" fill="#0094dc">end</text>
<rect x="1021.2" y="487" width="5.3" height="12.9" fill="#0094dc"/>
<rect x="1082.8" y="487" width="5.3" height="12.9" fill="#0094dc"/>
<rect x="1021.2" y="494.6" width="66.9" height="5.3" fill="#0094dc"/>
<text x="1038.58" y="530.53" font-size="22.7" fill="#0094dc">BB</text>
<text transform="translate(1154.98,490.45) rotate(-90)" font-size="14.2" fill="#96447a">start</text>
<text transform="translate(1195.83,485.07) rotate(-90)" font-size="14.2" fill="#96447a">end</text>
<rect x="1134.3" y="487" width="5.3" height="12.9" fill="#96447a"/>
<rect x="1196.3" y="487" width="5.3" height="12.9" fill="#96447a"/>
<rect x="1134.3" y="494.6" width="67.3" height="5.3" fill="#96447a"/>
<text x="1153.96" y="530.53" font-size="22.7" fill="#96447a">DF</text>
<text x="1274.1" y="71.88" font-size="51.97" fill="#110e0f">C</text>
<line x1="1395.5" y1="62.4" x2="1395.5" y2="485.7" stroke="#161314" stroke-width="2.5" stroke-linecap="butt"/>
<line x1="1386" y1="63.6" x2="1396.5" y2="63.6" stroke="#161314" stroke-width="2.5" stroke-linecap="butt"/>
<text x="1353.6" y="68.02" font-size="22.7" fill="#110e0f">15</text>
<line x1="1386" y1="147.9" x2="1396.5" y2="147.9" stroke="#161314" stroke-width="2.5" stroke-linecap="butt"/>
<text x="1353.77" y="152.43" font-size="22.7" fill="#110e0f">10</text>
<line x1="1386" y1="231.9" x2="1396.5" y2="231.9" stroke="#161314" stroke-width="2.5" stroke-linecap="butt"/>
<text x="1360.24" y="236.32" font-size="22.7" fill="#110e0f">5</text>
<line x1="1386" y1="316.1" x2="1396.5" y2="316.1" stroke="#161314" stroke-width="2.5" stroke-linecap="butt"/>
<text x="1360.3" y="320.63" font-size="22.7" fill="#110e0f">0</text>
<line x1="1386" y1="400.4" x2="1396.5" y2="400.4" stroke="#161314" stroke-width="2.5" stroke-linecap="butt"/>
<text x="1356.33" y="404.82" font-size="22.7" fill="#110e0f">-5</text>
<line x1="1386" y1="484.5" x2="1396.5" y2="484.5" stroke="#161314" stroke-width="2.5" stroke-linecap="butt"/>
<text x="1350.2" y="489.03" font-size="22.7" fill="#110e0f">-10</text>
<text transform="translate(1335.63,413.6) rotate(-90)" font-size="22.46" fill="#110e0f">delta LVEF (0-3 months) [%]</text>
<rect x="1405.5" y="316.2" width="33.8" height="65.6" fill="#231f20"/>
<line x1="1422.2" y1="381.8" x2="1422.2" y2="412" stroke="#161314" stroke-width="2.2" stroke-linecap="butt"/>
<line x1="1418.2" y1="412" x2="1426.2" y2="412" stroke="#161314" stroke-width="2.6" stroke-linecap="butt"/>
<rect x="1460.5" y="168.1" width="34" height="148.1" fill="#d9261c"/>
<line x1="1477.6" y1="168.1" x2="1477.6" y2="143.8" stroke="#d9261c" stroke-width="2.2" stroke-linecap="butt"/>
<line x1="1473.6" y1="143.8" x2="1481.6" y2="143.8" stroke="#d9261c" stroke-width="2.6" stroke-linecap="butt"/>
<rect x="1513.3" y="261.2" width="34" height="55" fill="#0094dc"/>
<line x1="1530.2" y1="261.2" x2="1530.2" y2="226.7" stroke="#0094dc" stroke-width="2.2" stroke-linecap="butt"/>
<line x1="1526.2" y1="226.7" x2="1534.2" y2="226.7" stroke="#0094dc" stroke-width="2.6" stroke-linecap="butt"/>
<rect x="1565.3" y="316.2" width="34.2" height="96.2" fill="#96447a"/>
<line x1="1582.4" y1="412.4" x2="1582.4" y2="466.8" stroke="#96447a" stroke-width="2.2" stroke-linecap="butt"/>
<line x1="1578.4" y1="466.8" x2="1586.4" y2="466.8" stroke="#96447a" stroke-width="2.6" stroke-linecap="butt"/>
<line x1="1386" y1="316.2" x2="1633.8" y2="316.2" stroke="#161314" stroke-width="2.6" stroke-linecap="butt"/>
<path d="M1421.35,84.1 V81.5 H1528.85 V84.1" fill="none" stroke="#161314" stroke-width="2.9"/>
<text x="1469.07" y="84.32" font-size="30.93" fill="#110e0f">*</text>
<path d="M1421.85,119.6 V117 H1477.25 V119.6" fill="none" stroke="#161314" stroke-width="2.9"/>
<text x="1439.35" y="120.12" font-size="31.03" fill="#110e0f">**</text>
<path d="M1477.55,109.2 V106.6 H1583.25 V109.2" fill="none" stroke="#161314" stroke-width="2.9"/>
<text x="1515.21" y="112.93" font-size="31.24" fill="#110e0f">**</text>
<path d="M1477.55,134.5 V131.9 H1530.75 V134.5" fill="none" stroke="#161314" stroke-width="2.9"/>
<text x="1503.55" y="134.69" font-size="30.27" fill="#110e0f">*</text>
<line x1="1759.3" y1="84" x2="1759.3" y2="500.5" stroke="#161314" stroke-width="2.5" stroke-linecap="butt"/>
<line x1="1749.2" y1="85.2" x2="1760.3" y2="85.2" stroke="#161314" stroke-width="2.5" stroke-linecap="butt"/>
<text x="1717.47" y="89.73" font-size="22.7" fill="#110e0f">10</text>
<line x1="1749.2" y1="131.3" x2="1760.3" y2="131.3" stroke="#161314" stroke-width="2.5" stroke-linecap="butt"/>
<text x="1724" y="135.83" font-size="22.7" fill="#110e0f">8</text>
<line x1="1749.2" y1="177.4" x2="1760.3" y2="177.4" stroke="#161314" stroke-width="2.5" stroke-linecap="butt"/>
<text x="1724" y="181.93" font-size="22.7" fill="#110e0f">6</text>
<line x1="1749.2" y1="223.3" x2="1760.3" y2="223.3" stroke="#161314" stroke-width="2.5" stroke-linecap="butt"/>
<text x="1723.89" y="227.83" font-size="22.7" fill="#110e0f">4</text>
<line x1="1749.2" y1="269.5" x2="1760.3" y2="269.5" stroke="#161314" stroke-width="2.5" stroke-linecap="butt"/>
<text x="1724.06" y="274.14" font-size="22.7" fill="#110e0f">2</text>
<line x1="1749.2" y1="315.2" x2="1760.3" y2="315.2" stroke="#161314" stroke-width="2.5" stroke-linecap="butt"/>
<text x="1724" y="319.73" font-size="22.7" fill="#110e0f">0</text>
<line x1="1749.2" y1="361.3" x2="1760.3" y2="361.3" stroke="#161314" stroke-width="2.5" stroke-linecap="butt"/>
<text x="1720.2" y="365.94" font-size="22.7" fill="#110e0f">-2</text>
<line x1="1749.2" y1="407.2" x2="1760.3" y2="407.2" stroke="#161314" stroke-width="2.5" stroke-linecap="butt"/>
<text x="1719.8" y="411.73" font-size="22.7" fill="#110e0f">-4</text>
<line x1="1749.2" y1="452.8" x2="1760.3" y2="452.8" stroke="#161314" stroke-width="2.5" stroke-linecap="butt"/>
<text x="1720.14" y="457.33" font-size="22.7" fill="#110e0f">-6</text>
<line x1="1749.2" y1="499" x2="1760.3" y2="499" stroke="#161314" stroke-width="2.5" stroke-linecap="butt"/>
<text x="1720.09" y="503.53" font-size="22.7" fill="#110e0f">-8</text>
<text transform="translate(1702.46,444.7) rotate(-90)" font-size="22.38" fill="#110e0f">delta LVFS (0-3 months) [%]</text>
<rect x="1776.7" y="315.2" width="34.1" height="59.4" fill="#231f20"/>
<line x1="1793.6" y1="374.6" x2="1793.6" y2="400.8" stroke="#161314" stroke-width="2.2" stroke-linecap="butt"/>
<line x1="1789.6" y1="400.8" x2="1797.6" y2="400.8" stroke="#161314" stroke-width="2.6" stroke-linecap="butt"/>
<rect x="1831.9" y="129.8" width="33.4" height="185.4" fill="#d9261c"/>
<line x1="1848.6" y1="129.8" x2="1848.6" y2="94.5" stroke="#d9261c" stroke-width="2.2" stroke-linecap="butt"/>
<line x1="1844.6" y1="94.5" x2="1852.6" y2="94.5" stroke="#d9261c" stroke-width="2.6" stroke-linecap="butt"/>
<rect x="1884.6" y="259.6" width="33.7" height="55.6" fill="#0094dc"/>
<line x1="1901.4" y1="259.6" x2="1901.4" y2="210" stroke="#0094dc" stroke-width="2.2" stroke-linecap="butt"/>
<line x1="1897.4" y1="210" x2="1905.4" y2="210" stroke="#0094dc" stroke-width="2.6" stroke-linecap="butt"/>
<rect x="1936.9" y="315.2" width="33.6" height="86.3" fill="#96447a"/>
<line x1="1953.6" y1="401.5" x2="1953.6" y2="465.6" stroke="#96447a" stroke-width="2.2" stroke-linecap="butt"/>
<line x1="1949.6" y1="465.6" x2="1957.6" y2="465.6" stroke="#96447a" stroke-width="2.6" stroke-linecap="butt"/>
<line x1="1749.2" y1="315.2" x2="2005" y2="315.2" stroke="#161314" stroke-width="2.6" stroke-linecap="butt"/>
<path d="M1795.45,23.4 V20.8 H1902.65 V23.4" fill="none" stroke="#161314" stroke-width="2.9"/>
<text x="1843.2" y="23.72" font-size="30.53" fill="#110e0f">*</text>
<path d="M1848.75,52.2 V49.6 H1901.45 V52.2" fill="none" stroke="#161314" stroke-width="2.9"/>
<text x="1874.57" y="52.75" font-size="30.4" fill="#110e0f">*</text>
<path d="M1793.45,67.4 V64.8 H1848.35 V67.4" fill="none" stroke="#161314" stroke-width="2.9"/>
<text x="1808.27" y="69.31" font-size="31.11" fill="#110e0f">**</text>
<path d="M1850.85,84.2 V81.6 H1953.95 V84.2" fill="none" stroke="#161314" stroke-width="2.9"/>
<text x="1888.5" y="84.97" font-size="30.63" fill="#110e0f">**</text>
<text x="2.65" y="668.4" font-size="51.01" fill="#110e0f">D</text>
<line x1="132.6" y1="634.6" x2="132.6" y2="1001.2" stroke="#161314" stroke-width="2.5" stroke-linecap="butt"/>
<line x1="122.5" y1="635.8" x2="133.6" y2="635.8" stroke="#161314" stroke-width="2.5" stroke-linecap="butt"/>
<text x="80.44" y="640.73" font-size="22.7" fill="#110e0f">1.6</text>
<line x1="122.5" y1="720.2" x2="133.6" y2="720.2" stroke="#161314" stroke-width="2.5" stroke-linecap="butt"/>
<text x="80.1" y="725.13" font-size="22.7" fill="#110e0f">1.4</text>
<line x1="122.5" y1="804.4" x2="133.6" y2="804.4" stroke="#161314" stroke-width="2.5" stroke-linecap="butt"/>
<text x="80.5" y="809.45" font-size="22.7" fill="#110e0f">1.2</text>
<line x1="122.5" y1="888.6" x2="133.6" y2="888.6" stroke="#161314" stroke-width="2.5" stroke-linecap="butt"/>
<text x="80.5" y="893.53" font-size="22.7" fill="#110e0f">1.0</text>
<line x1="122.5" y1="972.8" x2="133.6" y2="972.8" stroke="#161314" stroke-width="2.5" stroke-linecap="butt"/>
<text x="80.61" y="977.73" font-size="22.7" fill="#110e0f">0.8</text>
<line x1="126" y1="991" x2="141.6" y2="981" stroke="#161314" stroke-width="1.1" stroke-linecap="butt"/>
<line x1="126" y1="995.5" x2="141.6" y2="985.4" stroke="#161314" stroke-width="1.1" stroke-linecap="butt"/>
<text transform="translate(59.68,854.06) rotate(-90)" font-size="22.45" fill="#110e0f">IVSd [mm]</text>
<line x1="131.4" y1="1000" x2="602.7" y2="1000" stroke="#161314" stroke-width="2.6" stroke-linecap="butt"/>
<line x1="167.5" y1="1000" x2="167.5" y2="1007.5" stroke="#161314" stroke-width="3.2" stroke-linecap="butt"/>
<line x1="205.9" y1="1000" x2="205.9" y2="1007.5" stroke="#161314" stroke-width="3.2" stroke-linecap="butt"/>
<line x1="283.3" y1="1000" x2="283.3" y2="1007.5" stroke="#161314" stroke-width="3.2" stroke-linecap="butt"/>
<line x1="322.2" y1="1000" x2="322.2" y2="1007.5" stroke="#161314" stroke-width="3.2" stroke-linecap="butt"/>
<line x1="399.1" y1="1000" x2="399.1" y2="1007.5" stroke="#161314" stroke-width="3.2" stroke-linecap="butt"/>
<line x1="437.8" y1="1000" x2="437.8" y2="1007.5" stroke="#161314" stroke-width="3.2" stroke-linecap="butt"/>
<line x1="516" y1="1000" x2="516" y2="1007.5" stroke="#161314" stroke-width="3.2" stroke-linecap="butt"/>
<line x1="553.2" y1="1000" x2="553.2" y2="1007.5" stroke="#161314" stroke-width="3.2" stroke-linecap="butt"/>
<rect x="155.3" y="782.2" width="2.7" height="104.9" fill="#161314"/>
<rect x="178.3" y="782.2" width="2.7" height="104.9" fill="#161314"/>
<rect x="155.3" y="782.2" width="25.7" height="2.2" fill="#161314"/>
<rect x="155.3" y="884.9" width="25.7" height="2.2" fill="#161314"/>
<rect x="155.3" y="836.25" width="25.7" height="2.3" fill="#161314"/>
<rect x="193.3" y="704.7" width="2.7" height="95.1" fill="#161314"/>
<rect x="216.8" y="704.7" width="2.7" height="95.1" fill="#161314"/>
<rect x="193.3" y="704.7" width="26.2" height="2.2" fill="#161314"/>
<rect x="193.3" y="797.6" width="26.2" height="2.2" fill="#161314"/>
<rect x="193.3" y="761.55" width="26.2" height="2.3" fill="#161314"/>
<rect x="268.5" y="810" width="2.7" height="76.6" fill="#d9261c"/>
<rect x="291.8" y="810" width="2.7" height="76.6" fill="#d9261c"/>
<rect x="268.5" y="810" width="26" height="2.2" fill="#d9261c"/>
<rect x="268.5" y="884.4" width="26" height="2.2" fill="#d9261c"/>
<rect x="268.5" y="824.65" width="26" height="2.3" fill="#d9261c"/>
<rect x="307.9" y="851.7" width="2.7" height="61.7" fill="#d9261c"/>
<rect x="331.5" y="851.7" width="2.7" height="61.7" fill="#d9261c"/>
<rect x="307.9" y="851.7" width="26.3" height="2.2" fill="#d9261c"/>
<rect x="307.9" y="911.2" width="26.3" height="2.2" fill="#d9261c"/>
<rect x="307.9" y="886.75" width="26.3" height="2.3" fill="#d9261c"/>
<rect x="386.8" y="770.3" width="2.7" height="115.7" fill="#0094dc"/>
<rect x="410" y="770.3" width="2.7" height="115.7" fill="#0094dc"/>
<rect x="386.8" y="770.3" width="25.9" height="2.2" fill="#0094dc"/>
<rect x="386.8" y="883.8" width="25.9" height="2.2" fill="#0094dc"/>
<rect x="386.8" y="836.25" width="25.9" height="2.3" fill="#0094dc"/>
<rect x="426.3" y="792.3" width="2.7" height="163.1" fill="#0094dc"/>
<rect x="449.5" y="792.3" width="2.7" height="163.1" fill="#0094dc"/>
<rect x="426.3" y="792.3" width="25.9" height="2.2" fill="#0094dc"/>
<rect x="426.3" y="953.2" width="25.9" height="2.2" fill="#0094dc"/>
<rect x="426.3" y="863.45" width="25.9" height="2.3" fill="#0094dc"/>
<rect x="505.2" y="809.5" width="2.7" height="99.9" fill="#96447a"/>
<rect x="528.1" y="809.5" width="2.7" height="99.9" fill="#96447a"/>
<rect x="505.2" y="809.5" width="25.6" height="2.2" fill="#96447a"/>
<rect x="505.2" y="907.2" width="25.6" height="2.2" fill="#96447a"/>
<rect x="505.2" y="844.45" width="25.6" height="2.3" fill="#96447a"/>
<rect x="538.9" y="734.2" width="2.7" height="90.2" fill="#96447a"/>
<rect x="562.1" y="734.2" width="2.7" height="90.2" fill="#96447a"/>
<rect x="538.9" y="734.2" width="25.9" height="2.2" fill="#96447a"/>
<rect x="538.9" y="822.2" width="25.9" height="2.2" fill="#96447a"/>
<rect x="538.9" y="787.25" width="25.9" height="2.3" fill="#96447a"/>
<text x="201.54" y="688.6" font-size="21.47" fill="#110e0f" stroke="#110e0f" stroke-width="0.7" stroke-linejoin="round">#</text>
<text x="545.92" y="714.3" font-size="20.29" fill="#110e0f" stroke="#110e0f" stroke-width="0.7" stroke-linejoin="round">#</text>
<text x="305.69" y="839.79" font-size="31.06" fill="#110e0f">*</text>
<text x="317.06" y="831.55" font-size="20.98" fill="#110e0f" stroke="#110e0f" stroke-width="0.5" stroke-linejoin="round">,</text>
<text x="324.66" y="832" font-size="20.88" fill="#110e0f" stroke="#110e0f" stroke-width="0.7" stroke-linejoin="round">#</text>
<text transform="translate(168.68,1048.65) rotate(-90)" font-size="14.2" fill="#110e0f">start</text>
<text transform="translate(209.73,1043.12) rotate(-90)" font-size="14.2" fill="#110e0f">end</text>
<rect x="148.7" y="1045" width="5.3" height="13" fill="#231f20"/>
<rect x="210.4" y="1045" width="5.3" height="13" fill="#231f20"/>
<rect x="148.7" y="1052.7" width="67" height="5.3" fill="#231f20"/>
<text x="168.45" y="1088.63" font-size="22.7" fill="#110e0f">Co</text>
<text transform="translate(283.98,1048.65) rotate(-90)" font-size="14.2" fill="#d9261c">start</text>
<text transform="translate(325.13,1043.12) rotate(-90)" font-size="14.2" fill="#d9261c">end</text>
<rect x="264.5" y="1045" width="5.3" height="13" fill="#d9261c"/>
<rect x="326.2" y="1045" width="5.3" height="13" fill="#d9261c"/>
<rect x="264.5" y="1052.7" width="67" height="5.3" fill="#d9261c"/>
<text x="284.08" y="1088.63" font-size="22.7" fill="#d9261c">CR</text>
<text transform="translate(399.88,1048.65) rotate(-90)" font-size="14.2" fill="#0094dc">start</text>
<text transform="translate(440.78,1043.12) rotate(-90)" font-size="14.2" fill="#0094dc">end</text>
<rect x="380.1" y="1045" width="5.3" height="13" fill="#0094dc"/>
<rect x="441.6" y="1045" width="5.3" height="13" fill="#0094dc"/>
<rect x="380.1" y="1052.7" width="66.8" height="5.3" fill="#0094dc"/>
<text x="397.68" y="1088.63" font-size="22.7" fill="#0094dc">BB</text>
<text transform="translate(518.88,1048.65) rotate(-90)" font-size="14.2" fill="#96447a">start</text>
<text transform="translate(556.18,1043.12) rotate(-90)" font-size="14.2" fill="#96447a">end</text>
<rect x="498.8" y="1045" width="5.3" height="13" fill="#96447a"/>
<rect x="560.5" y="1045" width="5.3" height="13" fill="#96447a"/>
<rect x="498.8" y="1052.7" width="67" height="5.3" fill="#96447a"/>
<text x="518.16" y="1088.63" font-size="22.7" fill="#96447a">DF</text>
<text x="634.32" y="669.8" font-size="52.32" fill="#110e0f">E</text>
<line x1="776" y1="647.6" x2="776" y2="1003" stroke="#161314" stroke-width="2.8" stroke-linecap="butt"/>
<line x1="771" y1="648.8" x2="777" y2="648.8" stroke="#161314" stroke-width="2.5" stroke-linecap="butt"/>
<text x="700.32" y="653.63" font-size="22.7" fill="#110e0f">12000</text>
<line x1="771" y1="708.6" x2="777" y2="708.6" stroke="#161314" stroke-width="2.5" stroke-linecap="butt"/>
<text x="700.32" y="713.43" font-size="22.7" fill="#110e0f">10000</text>
<line x1="771" y1="768.6" x2="777" y2="768.6" stroke="#161314" stroke-width="2.5" stroke-linecap="butt"/>
<text x="706.96" y="773.43" font-size="22.7" fill="#110e0f">8000</text>
<line x1="771" y1="828" x2="777" y2="828" stroke="#161314" stroke-width="2.5" stroke-linecap="butt"/>
<text x="706.9" y="832.83" font-size="22.7" fill="#110e0f">6000</text>
<line x1="771" y1="887.8" x2="777" y2="887.8" stroke="#161314" stroke-width="2.5" stroke-linecap="butt"/>
<text x="707.13" y="892.63" font-size="22.7" fill="#110e0f">4000</text>
<line x1="771" y1="947.5" x2="777" y2="947.5" stroke="#161314" stroke-width="2.5" stroke-linecap="butt"/>
<text x="706.9" y="952.33" font-size="22.7" fill="#110e0f">2000</text>
<text x="725.8" y="1007.83" font-size="22.7" fill="#110e0f">0</text>
<text transform="translate(675.54,957.3) rotate(-90)" font-size="22.47" fill="#110e0f">dP/dt max [mmHg / ms]</text>
<rect x="791.7" y="736" width="33.9" height="265.5" fill="#231f20"/>
<line x1="808.3" y1="736" x2="808.3" y2="724.4" stroke="#161314" stroke-width="2.2" stroke-linecap="butt"/>
<line x1="804.3" y1="724.4" x2="812.3" y2="724.4" stroke="#161314" stroke-width="2.6" stroke-linecap="butt"/>
<rect x="846.4" y="712.5" width="34" height="289" fill="#d9261c"/>
<line x1="863.2" y1="712.5" x2="863.2" y2="694" stroke="#d9261c" stroke-width="2.2" stroke-linecap="butt"/>
<line x1="859.2" y1="694" x2="867.2" y2="694" stroke="#d9261c" stroke-width="2.6" stroke-linecap="butt"/>
<rect x="899.3" y="736.7" width="34" height="264.8" fill="#0094dc"/>
<line x1="916.1" y1="736.7" x2="916.1" y2="694.6" stroke="#0094dc" stroke-width="2.2" stroke-linecap="butt"/>
<line x1="912.1" y1="694.6" x2="920.1" y2="694.6" stroke="#0094dc" stroke-width="2.6" stroke-linecap="butt"/>
<rect x="951.3" y="742.3" width="33.7" height="259.2" fill="#96447a"/>
<line x1="968.1" y1="742.3" x2="968.1" y2="723.6" stroke="#96447a" stroke-width="2.2" stroke-linecap="butt"/>
<line x1="964.1" y1="723.6" x2="972.1" y2="723.6" stroke="#96447a" stroke-width="2.6" stroke-linecap="butt"/>
<line x1="772" y1="1001.5" x2="1019.2" y2="1001.5" stroke="#161314" stroke-width="2.8" stroke-linecap="butt"/>
<path d="M808.35,678 V675.4 H863.55 V678" fill="none" stroke="#161314" stroke-width="2.9"/>
<text x="830.27" y="679.45" font-size="30.41" fill="#110e0f">*</text>
<rect x="1047.9" y="775.4" width="214.5" height="96.9" fill="none" stroke="#161314" stroke-width="1.6"/>
<rect x="1053.3" y="781.4" width="24.4" height="17.2" fill="#231f20"/>
<text x="1087.4" y="796.7" font-size="19.7" fill="#110e0f">control</text>
<rect x="1053.3" y="804.2" width="24.4" height="17.5" fill="#d9261c"/>
<text x="1087.4" y="818.5" font-size="19.7" fill="#110e0f">caloric restriction</text>
<rect x="1053.3" y="826.3" width="24.4" height="17.4" fill="#0094dc"/>
<text x="1087.4" y="840.3" font-size="19.7" fill="#110e0f">betablocker</text>
<rect x="1053.3" y="848.2" width="24.4" height="17.4" fill="#96447a"/>
<text x="1087.4" y="862.4" font-size="19.7" fill="#110e0f">diuretic</text>
</svg></body></html>
